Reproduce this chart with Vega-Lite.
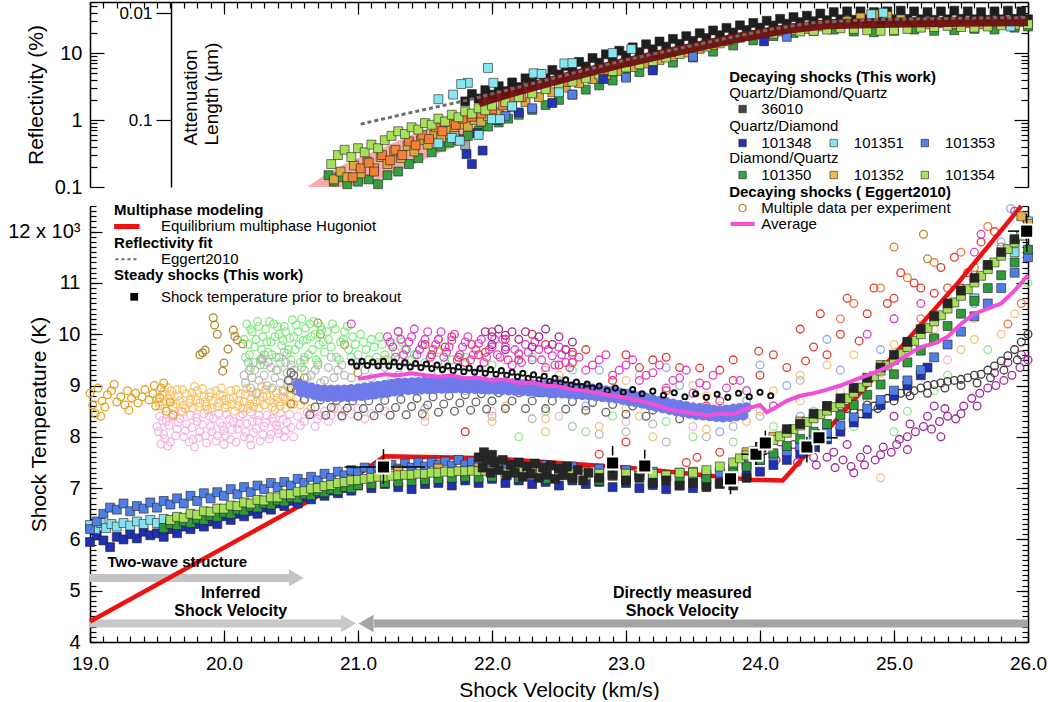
{
"$schema":"https://vega.github.io/schema/vega-lite/v6.json",
"autosize":{"type":"pad"},
"padding":{"left":7,"top":1,"right":0,"bottom":0},
"bounds":"flush",
"spacing":19,
"config":{
 "view":{"stroke":null},
 "font":"Liberation Sans",
 "axis":{"grid":false,"labelFlush":false,"domainColor":"#000000","domainWidth":1.5,"tickColor":"#000000","tickWidth":1.2,"labelColor":"#000000","titleColor":"#000000","labelFont":"Liberation Sans","titleFont":"Liberation Sans","titleFontWeight":"normal","labelFontSize":20,"titleFontSize":21},
 "text":{"font":"Liberation Sans","fontSize":15,"align":"left","baseline":"middle","color":"#000000"}
},
"datasets":{
"pink":[
{"v":20.62,"lo":0.1,"hi":0.1},{"v":20.75,"lo":0.1,"hi":0.15},{"v":20.9,"lo":0.1,"hi":0.22},{"v":21.05,"lo":0.11,"hi":0.3},{"v":21.2,"lo":0.14,"hi":0.4},{"v":21.35,"lo":0.19,"hi":0.55},{"v":21.5,"lo":0.26,"hi":0.72},{"v":21.65,"lo":0.35,"hi":0.9},{"v":21.8,"lo":0.45,"hi":1.1}
],
"refl":[
{"v":21.8,"r":1.9,"s":"36010"},{"v":21.85,"r":2.45,"s":"36010"},{"v":21.9,"r":2.1,"s":"36010"},{"v":21.95,"r":2.8,"s":"36010"},{"v":22,"r":2.4,"s":"36010"},{"v":22.05,"r":3.2,"s":"36010"},{"v":22.1,"r":2.7,"s":"36010"},{"v":22.15,"r":3.65,"s":"36010"},{"v":22.2,"r":3.1,"s":"36010"},{"v":22.25,"r":4.2,"s":"36010"},{"v":22.3,"r":3.6,"s":"36010"},{"v":22.35,"r":4.85,"s":"36010"},{"v":22.4,"r":4.2,"s":"36010"},{"v":22.45,"r":5.6,"s":"36010"},{"v":22.5,"r":4.8,"s":"36010"},{"v":22.55,"r":6.45,"s":"36010"},{"v":22.6,"r":5.5,"s":"36010"},{"v":22.65,"r":7.4,"s":"36010"},{"v":22.7,"r":6.3,"s":"36010"},{"v":22.75,"r":8.45,"s":"36010"},{"v":22.8,"r":7.2,"s":"36010"},{"v":22.85,"r":9.6,"s":"36010"},{"v":22.9,"r":8.1,"s":"36010"},{"v":22.95,"r":10.85,"s":"36010"},{"v":23,"r":9.2,"s":"36010"},{"v":23.05,"r":12.2,"s":"36010"},{"v":23.1,"r":10.3,"s":"36010"},{"v":23.15,"r":13.55,"s":"36010"},{"v":23.2,"r":11.4,"s":"36010"},{"v":23.25,"r":14.9,"s":"36010"},{"v":23.3,"r":12.5,"s":"36010"},{"v":23.35,"r":16.3,"s":"36010"},{"v":23.4,"r":13.7,"s":"36010"},{"v":23.45,"r":17.9,"s":"36010"},{"v":23.5,"r":15.2,"s":"36010"},{"v":23.55,"r":19.8,"s":"36010"},{"v":23.6,"r":16.8,"s":"36010"},{"v":23.65,"r":21.8,"s":"36010"},{"v":23.7,"r":18.5,"s":"36010"},{"v":23.75,"r":23.8,"s":"36010"},{"v":23.8,"r":20.3,"s":"36010"},{"v":23.85,"r":26,"s":"36010"},{"v":23.9,"r":22.1,"s":"36010"},{"v":23.95,"r":28.2,"s":"36010"},{"v":24,"r":24,"s":"36010"},{"v":24.05,"r":30.4,"s":"36010"},{"v":24.1,"r":25.8,"s":"36010"},{"v":24.15,"r":32.5,"s":"36010"},{"v":24.2,"r":27.5,"s":"36010"},{"v":24.25,"r":34.5,"s":"36010"},{"v":24.3,"r":29,"s":"36010"},{"v":24.35,"r":36.2,"s":"36010"},{"v":24.4,"r":30,"s":"36010"},{"v":24.45,"r":39,"s":"36010"},{"v":24.5,"r":31,"s":"36010"},{"v":24.55,"r":41,"s":"36010"},{"v":24.6,"r":32,"s":"36010"},{"v":24.65,"r":42,"s":"36010"},{"v":24.7,"r":31.5,"s":"36010"},{"v":24.75,"r":42,"s":"36010"},{"v":24.8,"r":32,"s":"36010"},{"v":24.85,"r":41,"s":"36010"},{"v":24.9,"r":31,"s":"36010"},{"v":24.95,"r":42,"s":"36010"},{"v":25,"r":32,"s":"36010"},{"v":25.05,"r":43,"s":"36010"},{"v":25.1,"r":32.5,"s":"36010"},{"v":25.15,"r":42,"s":"36010"},{"v":25.2,"r":32,"s":"36010"},{"v":25.25,"r":41,"s":"36010"},{"v":25.3,"r":31.5,"s":"36010"},{"v":25.35,"r":42,"s":"36010"},{"v":25.4,"r":32,"s":"36010"},{"v":25.45,"r":43,"s":"36010"},{"v":25.5,"r":32.5,"s":"36010"},{"v":25.55,"r":42,"s":"36010"},{"v":25.6,"r":32,"s":"36010"},{"v":25.65,"r":41,"s":"36010"},{"v":25.7,"r":31.5,"s":"36010"},{"v":25.75,"r":42,"s":"36010"},{"v":25.8,"r":32,"s":"36010"},{"v":25.85,"r":43,"s":"36010"},{"v":25.9,"r":32.5,"s":"36010"},{"v":25.95,"r":42,"s":"36010"},{"v":26,"r":32,"s":"36010"},
{"v":20.78,"r":0.15,"s":"101350"},{"v":20.82,"r":0.12,"s":"101350"},{"v":20.86,"r":0.14,"s":"101350"},{"v":20.92,"r":0.11,"s":"101350"},{"v":21,"r":0.12,"s":"101350"},{"v":21.08,"r":0.13,"s":"101350"},{"v":21.15,"r":0.11,"s":"101350"},{"v":21.22,"r":0.15,"s":"101350"},{"v":21.3,"r":0.17,"s":"101350"},{"v":21.38,"r":0.22,"s":"101350"},{"v":21.45,"r":0.27,"s":"101350"},{"v":21.55,"r":0.33,"s":"101350"},{"v":21.62,"r":0.4,"s":"101350"},{"v":21.68,"r":0.46,"s":"101350"},{"v":21.75,"r":0.52,"s":"101350"},{"v":21.82,"r":0.58,"s":"101350"},{"v":21.9,"r":0.7,"s":"101350"},{"v":21.97,"r":0.8,"s":"101350"},{"v":22.05,"r":0.92,"s":"101350"},{"v":22.12,"r":1.05,"s":"101350"},{"v":22.2,"r":1.2,"s":"101350"},{"v":22.3,"r":1.42,"s":"101350"},{"v":22.4,"r":1.68,"s":"101350"},{"v":22.5,"r":2,"s":"101350"},{"v":22.6,"r":2.4,"s":"101350"},{"v":22.7,"r":2.85,"s":"101350"},{"v":22.8,"r":3.3,"s":"101350"},{"v":22.9,"r":3.9,"s":"101350"},{"v":23,"r":4.5,"s":"101350"},{"v":23.1,"r":5.2,"s":"101350"},{"v":23.2,"r":6,"s":"101350"},{"v":23.35,"r":7.2,"s":"101350"},{"v":23.5,"r":8.6,"s":"101350"},{"v":23.65,"r":10.5,"s":"101350"},{"v":23.8,"r":13,"s":"101350"},{"v":23.95,"r":15.5,"s":"101350"},{"v":24.1,"r":18,"s":"101350"},{"v":24.25,"r":20,"s":"101350"},{"v":24.4,"r":21.5,"s":"101350"},{"v":24.55,"r":22.5,"s":"101350"},{"v":24.7,"r":21,"s":"101350"},{"v":24.85,"r":20.5,"s":"101350"},{"v":25,"r":21.5,"s":"101350"},{"v":25.15,"r":22.5,"s":"101350"},{"v":25.3,"r":21.5,"s":"101350"},{"v":25.45,"r":22,"s":"101350"},{"v":25.6,"r":23,"s":"101350"},{"v":25.75,"r":22.5,"s":"101350"},{"v":25.9,"r":24,"s":"101350"},{"v":26,"r":25,"s":"101350"},
{"v":20.82,"r":0.13,"s":"101352"},{"v":20.87,"r":0.17,"s":"101352"},{"v":20.92,"r":0.14,"s":"101352"},{"v":20.97,"r":0.21,"s":"101352"},{"v":21.02,"r":0.16,"s":"101352"},{"v":21.07,"r":0.24,"s":"101352"},{"v":21.12,"r":0.19,"s":"101352"},{"v":21.17,"r":0.28,"s":"101352"},{"v":21.22,"r":0.22,"s":"101352"},{"v":21.27,"r":0.34,"s":"101352"},{"v":21.32,"r":0.27,"s":"101352"},{"v":21.37,"r":0.41,"s":"101352"},{"v":21.42,"r":0.34,"s":"101352"},{"v":21.47,"r":0.5,"s":"101352"},{"v":21.52,"r":0.43,"s":"101352"},{"v":21.57,"r":0.6,"s":"101352"},{"v":21.62,"r":0.55,"s":"101352"},{"v":21.67,"r":0.72,"s":"101352"},{"v":21.72,"r":0.66,"s":"101352"},{"v":21.77,"r":0.86,"s":"101352"},{"v":21.82,"r":0.8,"s":"101352"},{"v":21.87,"r":1,"s":"101352"},{"v":21.92,"r":0.95,"s":"101352"},{"v":21.97,"r":1.15,"s":"101352"},{"v":22.05,"r":1.3,"s":"101352"},{"v":22.15,"r":1.55,"s":"101352"},{"v":22.25,"r":1.85,"s":"101352"},{"v":22.35,"r":2.2,"s":"101352"},{"v":22.45,"r":2.6,"s":"101352"},{"v":22.55,"r":3.05,"s":"101352"},{"v":22.65,"r":3.55,"s":"101352"},{"v":22.75,"r":4.1,"s":"101352"},{"v":22.85,"r":4.7,"s":"101352"},{"v":22.95,"r":5.4,"s":"101352"},{"v":23.05,"r":6.2,"s":"101352"},{"v":23.15,"r":7,"s":"101352"},{"v":23.25,"r":7.9,"s":"101352"},{"v":23.35,"r":9,"s":"101352"},{"v":23.45,"r":10.2,"s":"101352"},{"v":23.55,"r":11.6,"s":"101352"},{"v":23.65,"r":13.2,"s":"101352"},{"v":23.75,"r":15,"s":"101352"},{"v":23.85,"r":17,"s":"101352"},{"v":23.95,"r":18.5,"s":"101352"},{"v":24.05,"r":20,"s":"101352"},{"v":24.15,"r":21,"s":"101352"},{"v":24.25,"r":22,"s":"101352"},{"v":24.35,"r":23,"s":"101352"},{"v":24.45,"r":25,"s":"101352"},{"v":24.55,"r":27,"s":"101352"},{"v":24.65,"r":30,"s":"101352"},{"v":24.75,"r":34,"s":"101352"},{"v":24.85,"r":38,"s":"101352"},{"v":24.95,"r":36,"s":"101352"},{"v":25.05,"r":32,"s":"101352"},{"v":25.15,"r":29,"s":"101352"},{"v":25.25,"r":27,"s":"101352"},{"v":25.35,"r":28,"s":"101352"},{"v":25.45,"r":27,"s":"101352"},{"v":25.55,"r":28,"s":"101352"},{"v":25.65,"r":27,"s":"101352"},{"v":25.75,"r":29,"s":"101352"},{"v":25.85,"r":28,"s":"101352"},{"v":25.95,"r":29,"s":"101352"},
{"v":20.96,"r":0.14,"s":"o"},{"v":21.02,"r":0.19,"s":"o"},{"v":21.08,"r":0.23,"s":"o"},{"v":21.12,"r":0.17,"s":"o"},{"v":21.18,"r":0.3,"s":"o"},{"v":21.24,"r":0.25,"s":"o"},{"v":21.28,"r":0.36,"s":"o"},{"v":21.33,"r":0.3,"s":"o"},{"v":21.38,"r":0.48,"s":"o"},{"v":21.43,"r":0.42,"s":"o"},{"v":21.48,"r":0.6,"s":"o"},{"v":21.53,"r":0.52,"s":"o"},{"v":21.58,"r":0.78,"s":"o"},{"v":21.63,"r":0.68,"s":"o"},{"v":21.68,"r":0.95,"s":"o"},{"v":21.73,"r":0.85,"s":"o"},{"v":21.78,"r":1.05,"s":"o"},{"v":21.85,"r":1.12,"s":"o"},{"v":21.92,"r":1.25,"s":"o"},{"v":22,"r":1.45,"s":"o"},{"v":22.08,"r":1.65,"s":"o"},{"v":22.15,"r":1.95,"s":"o"},{"v":22.22,"r":2.2,"s":"o"},{"v":22.3,"r":2.55,"s":"o"},{"v":22.4,"r":3,"s":"o"},{"v":22.55,"r":3.7,"s":"o"},{"v":22.7,"r":4.5,"s":"o"},{"v":22.85,"r":5.4,"s":"o"},{"v":23,"r":6.4,"s":"o"},
{"v":20.8,"r":0.22,"s":"101354"},{"v":20.85,"r":0.3,"s":"101354"},{"v":20.9,"r":0.36,"s":"101354"},{"v":20.95,"r":0.28,"s":"101354"},{"v":21,"r":0.38,"s":"101354"},{"v":21.05,"r":0.33,"s":"101354"},{"v":21.1,"r":0.43,"s":"101354"},{"v":21.15,"r":0.38,"s":"101354"},{"v":21.2,"r":0.5,"s":"101354"},{"v":21.25,"r":0.58,"s":"101354"},{"v":21.3,"r":0.68,"s":"101354"},{"v":21.35,"r":0.62,"s":"101354"},{"v":21.4,"r":0.78,"s":"101354"},{"v":21.45,"r":0.72,"s":"101354"},{"v":21.5,"r":0.9,"s":"101354"},{"v":21.55,"r":0.85,"s":"101354"},{"v":21.6,"r":1.05,"s":"101354"},{"v":21.65,"r":0.95,"s":"101354"},{"v":21.7,"r":1.2,"s":"101354"},{"v":21.75,"r":1.1,"s":"101354"},{"v":21.8,"r":1.35,"s":"101354"},{"v":21.85,"r":1.25,"s":"101354"},{"v":21.9,"r":1.5,"s":"101354"},{"v":21.95,"r":1.4,"s":"101354"},{"v":22,"r":1.65,"s":"101354"},{"v":22.1,"r":1.85,"s":"101354"},{"v":22.2,"r":2.2,"s":"101354"},{"v":22.3,"r":2.5,"s":"101354"},{"v":22.4,"r":2.9,"s":"101354"},{"v":22.5,"r":3.3,"s":"101354"},{"v":22.6,"r":3.75,"s":"101354"},{"v":22.7,"r":4.2,"s":"101354"},{"v":22.8,"r":4.8,"s":"101354"},{"v":22.9,"r":5.4,"s":"101354"},{"v":23,"r":6.1,"s":"101354"},{"v":23.1,"r":6.8,"s":"101354"},{"v":23.2,"r":7.6,"s":"101354"},{"v":23.3,"r":8.6,"s":"101354"},{"v":23.4,"r":9.7,"s":"101354"},{"v":23.5,"r":11,"s":"101354"},{"v":23.6,"r":12.5,"s":"101354"},{"v":23.7,"r":14,"s":"101354"},{"v":23.8,"r":16,"s":"101354"},{"v":23.9,"r":18,"s":"101354"},{"v":24,"r":19,"s":"101354"},{"v":24.1,"r":19.5,"s":"101354"},{"v":24.2,"r":20.5,"s":"101354"},{"v":24.3,"r":21,"s":"101354"},{"v":24.4,"r":21.5,"s":"101354"},{"v":24.5,"r":22.5,"s":"101354"},{"v":24.6,"r":23.5,"s":"101354"},{"v":24.7,"r":23,"s":"101354"},{"v":24.8,"r":22,"s":"101354"},{"v":24.9,"r":21.5,"s":"101354"},{"v":25,"r":22,"s":"101354"},{"v":25.1,"r":23,"s":"101354"},{"v":25.2,"r":24,"s":"101354"},{"v":25.3,"r":24.5,"s":"101354"},{"v":25.4,"r":25.5,"s":"101354"},{"v":25.5,"r":24.5,"s":"101354"},{"v":25.6,"r":24,"s":"101354"},{"v":25.7,"r":25,"s":"101354"},{"v":25.8,"r":26,"s":"101354"},{"v":25.9,"r":26.5,"s":"101354"},{"v":26,"r":27,"s":"101354"},
{"v":21.75,"r":0.5,"s":"g"},{"v":21.8,"r":0.42,"s":"g"},{"v":21.72,"r":0.58,"s":"g"},
{"v":22.1,"r":1.15,"s":"101353"},{"v":22.3,"r":1.5,"s":"101353"},{"v":22.6,"r":2.4,"s":"101353"},{"v":23,"r":4.3,"s":"101353"},{"v":23.5,"r":8.8,"s":"101353"},{"v":24.2,"r":17.5,"s":"101353"},
{"v":21.81,"r":0.31,"s":"101348"},{"v":21.85,"r":0.22,"s":"101348"},{"v":21.93,"r":0.35,"s":"101348"},{"v":21.89,"r":0.64,"s":"101348"},{"v":22.04,"r":1,"s":"101348"},{"v":22.2,"r":1.3,"s":"101348"},{"v":22.45,"r":1.8,"s":"101348"},{"v":22.83,"r":4.1,"s":"101348"},{"v":23.2,"r":5.5,"s":"101348"},{"v":24.03,"r":15,"s":"101348"},
{"v":21.6,"r":0.45,"s":"101351"},{"v":21.7,"r":0.54,"s":"101351"},{"v":21.76,"r":0.49,"s":"101351"},{"v":21.9,"r":0.6,"s":"101351"},{"v":22,"r":1.03,"s":"101351"},{"v":22.06,"r":1.03,"s":"101351"},{"v":21.71,"r":2.4,"s":"101351"},{"v":21.6,"r":2.05,"s":"101351"},{"v":21.82,"r":3.6,"s":"101351"},{"v":21.77,"r":3.45,"s":"101351"},{"v":21.97,"r":6,"s":"101351"},{"v":22.01,"r":3.6,"s":"101351"},{"v":22.31,"r":5,"s":"101351"},{"v":22.37,"r":4.9,"s":"101351"},{"v":22.54,"r":7,"s":"101351"},{"v":22.6,"r":7.1,"s":"101351"},{"v":22.9,"r":10,"s":"101351"},{"v":23.04,"r":11.5,"s":"101351"},{"v":24.83,"r":38,"s":"101351"},{"v":24.92,"r":40,"s":"101351"},{"v":25.87,"r":25,"s":"101351"},{"v":22.15,"r":1.6,"s":"101351"},{"v":22.5,"r":2.6,"s":"101351"}
],
"redband":[
{"v":21.9,"r":1.85},{"v":22.2,"r":2.8},{"v":22.6,"r":4.6},{"v":23,"r":7.3},{"v":23.4,"r":11},{"v":23.8,"r":16.5},{"v":24.2,"r":23},{"v":24.5,"r":27},{"v":25,"r":28.5},{"v":25.5,"r":29.5},{"v":26,"r":30}
],
"eggfit":[
{"v":21.02,"r":0.87},{"v":21.4,"r":1.3},{"v":21.8,"r":1.95},{"v":22.2,"r":3.1},{"v":22.6,"r":5},{"v":23,"r":7.9},{"v":23.4,"r":11.8},{"v":23.8,"r":17.5},{"v":24.1,"r":23},{"v":24.4,"r":28.5},{"v":24.8,"r":31.5},{"v":25.4,"r":33},{"v":26,"r":34}
],
"legTopSq":[
{"v":23.87,"r":1.46,"s":"36010"},{"v":23.87,"r":0.454,"s":"101348"},{"v":24.55,"r":0.454,"s":"101351"},{"v":25.23,"r":0.454,"s":"101353"},{"v":23.87,"r":0.151,"s":"101350"},{"v":24.55,"r":0.151,"s":"101352"},{"v":25.23,"r":0.151,"s":"101354"}
],
"legTopTxt":[
{"v":23.77,"r":4.38,"txt":"Decaying shocks (This work)","w":"b"},
{"v":23.77,"r":2.53,"txt":"Quartz/Diamond/Quartz","w":"n"},
{"v":24.01,"r":1.46,"txt":"36010","w":"n"},
{"v":23.77,"r":0.81,"txt":"Quartz/Diamond","w":"n"},
{"v":24.01,"r":0.454,"txt":"101348","w":"n"},
{"v":24.7,"r":0.454,"txt":"101351","w":"n"},
{"v":25.38,"r":0.454,"txt":"101353","w":"n"},
{"v":23.77,"r":0.271,"txt":"Diamond/Quartz","w":"n"},
{"v":24.01,"r":0.151,"txt":"101350","w":"n"},
{"v":24.7,"r":0.151,"txt":"101352","w":"n"},
{"v":25.38,"r":0.151,"txt":"101354","w":"n"},
{"v":23.77,"r":0.0842,"txt":"Decaying shocks ( Eggert2010)","w":"b"}
],
"egg":[
{"v":19.5,"t":8.2,"g":"C"},{"v":19.52,"t":8.4,"g":"C"},{"v":19.55,"t":8.05,"g":"C"},{"v":19.57,"t":8.3,"g":"C"},{"v":19.6,"t":7.9,"g":"C"},{"v":19.62,"t":8.45,"g":"C"},{"v":19.65,"t":8.15,"g":"C"},{"v":19.67,"t":8.35,"g":"C"},{"v":19.7,"t":8,"g":"C"},{"v":19.72,"t":8.25,"g":"C"},{"v":19.75,"t":8.42,"g":"C"},{"v":19.77,"t":7.95,"g":"C"},{"v":19.8,"t":8.3,"g":"C"},{"v":19.82,"t":8.1,"g":"C"},{"v":19.85,"t":8.45,"g":"C"},{"v":19.87,"t":7.88,"g":"C"},{"v":19.9,"t":8.2,"g":"C"},{"v":19.92,"t":8.36,"g":"C"},{"v":19.95,"t":8.02,"g":"C"},{"v":19.97,"t":8.28,"g":"C"},{"v":20,"t":8.12,"g":"C"},{"v":20.02,"t":8.44,"g":"C"},{"v":20.05,"t":7.95,"g":"C"},{"v":20.07,"t":8.3,"g":"C"},{"v":20.1,"t":8.15,"g":"C"},{"v":20.12,"t":8.4,"g":"C"},{"v":20.15,"t":8,"g":"C"},{"v":20.17,"t":8.26,"g":"C"},{"v":20.2,"t":8.48,"g":"C"},{"v":20.22,"t":8.08,"g":"C"},{"v":20.25,"t":8.32,"g":"C"},{"v":20.27,"t":7.92,"g":"C"},{"v":20.3,"t":8.2,"g":"C"},{"v":20.32,"t":8.42,"g":"C"},{"v":20.35,"t":8.05,"g":"C"},{"v":20.37,"t":8.3,"g":"C"},{"v":20.4,"t":8.14,"g":"C"},{"v":20.42,"t":8.46,"g":"C"},{"v":20.45,"t":8,"g":"C"},{"v":20.47,"t":8.28,"g":"C"},{"v":20.5,"t":8.18,"g":"C"},{"v":20.55,"t":8.4,"g":"C"},{"v":20.6,"t":8.3,"g":"C"},{"v":20.65,"t":8.45,"g":"C"},{"v":20.7,"t":8.35,"g":"C"},{"v":20.75,"t":8.5,"g":"C"},{"v":20.8,"t":8.42,"g":"C"},{"v":20.85,"t":8.55,"g":"C"},{"v":20.9,"t":8.5,"g":"C"},{"v":19.58,"t":7.82,"g":"C"},{"v":19.78,"t":7.8,"g":"C"},{"v":20,"t":7.85,"g":"C"},{"v":20.2,"t":7.84,"g":"C"},{"v":19.53,"t":7.86,"g":"C"},{"v":21,"t":8.55,"g":"C"},{"v":21.1,"t":8.45,"g":"C"},{"v":21.2,"t":8.5,"g":"C"},
{"v":19.51,"t":8.1,"g":"C"},{"v":19.54,"t":8.32,"g":"C"},{"v":19.56,"t":7.96,"g":"C"},{"v":19.59,"t":8.22,"g":"C"},{"v":19.61,"t":8.38,"g":"C"},{"v":19.64,"t":8.02,"g":"C"},{"v":19.66,"t":8.28,"g":"C"},{"v":19.69,"t":8.48,"g":"C"},{"v":19.71,"t":8.12,"g":"C"},{"v":19.74,"t":7.9,"g":"C"},{"v":19.76,"t":8.18,"g":"C"},{"v":19.79,"t":8.38,"g":"C"},{"v":19.81,"t":7.98,"g":"C"},{"v":19.84,"t":8.24,"g":"C"},{"v":19.86,"t":8.02,"g":"C"},{"v":19.89,"t":8.4,"g":"C"},{"v":19.91,"t":8.1,"g":"C"},{"v":19.94,"t":7.92,"g":"C"},{"v":19.96,"t":8.46,"g":"C"},{"v":19.99,"t":8.2,"g":"C"},{"v":20.01,"t":8.02,"g":"C"},{"v":20.04,"t":8.34,"g":"C"},{"v":20.06,"t":8.14,"g":"C"},{"v":20.09,"t":7.9,"g":"C"},{"v":20.11,"t":8.26,"g":"C"},{"v":20.14,"t":8.44,"g":"C"},{"v":20.16,"t":8.1,"g":"C"},{"v":20.19,"t":7.96,"g":"C"},{"v":20.21,"t":8.3,"g":"C"},{"v":20.24,"t":8.16,"g":"C"},{"v":20.26,"t":8.42,"g":"C"},{"v":20.29,"t":8.04,"g":"C"},{"v":20.31,"t":8.28,"g":"C"},{"v":20.34,"t":7.96,"g":"C"},{"v":20.36,"t":8.36,"g":"C"},{"v":20.39,"t":8.22,"g":"C"},{"v":20.41,"t":8.06,"g":"C"},{"v":20.44,"t":8.34,"g":"C"},{"v":20.46,"t":8.12,"g":"C"},{"v":20.49,"t":8.44,"g":"C"},{"v":20.52,"t":8,"g":"C"},{"v":20.57,"t":8.22,"g":"C"},{"v":20.62,"t":8.48,"g":"C"},{"v":20.68,"t":8.2,"g":"C"},{"v":20.72,"t":8.42,"g":"C"},{"v":20.78,"t":8.3,"g":"C"},{"v":20.82,"t":8.55,"g":"C"},{"v":20.88,"t":8.38,"g":"C"},{"v":20.95,"t":8.45,"g":"C"},{"v":21.05,"t":8.35,"g":"C"},
{"v":19.5,"t":8.75,"g":"B"},{"v":19.52,"t":8.6,"g":"B"},{"v":19.55,"t":8.88,"g":"B"},{"v":19.57,"t":8.68,"g":"B"},{"v":19.6,"t":8.8,"g":"B"},{"v":19.62,"t":8.58,"g":"B"},{"v":19.65,"t":8.92,"g":"B"},{"v":19.67,"t":8.7,"g":"B"},{"v":19.7,"t":8.62,"g":"B"},{"v":19.72,"t":8.84,"g":"B"},{"v":19.75,"t":8.74,"g":"B"},{"v":19.77,"t":8.56,"g":"B"},{"v":19.8,"t":8.9,"g":"B"},{"v":19.82,"t":8.66,"g":"B"},{"v":19.85,"t":8.78,"g":"B"},{"v":19.87,"t":8.6,"g":"B"},{"v":19.9,"t":8.86,"g":"B"},{"v":19.92,"t":8.7,"g":"B"},{"v":19.95,"t":8.58,"g":"B"},{"v":19.97,"t":8.82,"g":"B"},{"v":20,"t":8.72,"g":"B"},{"v":20.02,"t":8.62,"g":"B"},{"v":20.05,"t":8.9,"g":"B"},{"v":20.07,"t":8.76,"g":"B"},{"v":20.1,"t":8.6,"g":"B"},{"v":20.12,"t":8.84,"g":"B"},{"v":20.15,"t":8.68,"g":"B"},{"v":20.17,"t":8.94,"g":"B"},{"v":20.2,"t":8.74,"g":"B"},{"v":20.22,"t":8.58,"g":"B"},{"v":20.25,"t":8.86,"g":"B"},{"v":20.27,"t":8.7,"g":"B"},{"v":20.3,"t":8.62,"g":"B"},{"v":20.32,"t":8.8,"g":"B"},{"v":20.35,"t":8.92,"g":"B"},{"v":20.37,"t":8.66,"g":"B"},{"v":20.4,"t":8.76,"g":"B"},{"v":20.42,"t":8.6,"g":"B"},{"v":20.45,"t":8.88,"g":"B"},{"v":20.47,"t":8.72,"g":"B"},{"v":20.5,"t":8.8,"g":"B"},{"v":20.52,"t":8.64,"g":"B"},{"v":20.55,"t":8.9,"g":"B"},{"v":19.58,"t":8.96,"g":"B"},{"v":19.68,"t":8.5,"g":"B"},{"v":19.78,"t":8.98,"g":"B"},{"v":19.88,"t":8.52,"g":"B"},{"v":19.98,"t":8.95,"g":"B"},{"v":20.08,"t":8.5,"g":"B"},{"v":20.18,"t":8.55,"g":"B"},{"v":20.28,"t":8.98,"g":"B"},{"v":20.38,"t":8.52,"g":"B"},{"v":20.48,"t":8.96,"g":"B"},{"v":20.6,"t":8.7,"g":"B"},{"v":20.65,"t":8.55,"g":"B"},
{"v":19.51,"t":8.68,"g":"B"},{"v":19.54,"t":8.82,"g":"B"},{"v":19.56,"t":8.56,"g":"B"},{"v":19.59,"t":8.74,"g":"B"},{"v":19.61,"t":8.9,"g":"B"},{"v":19.64,"t":8.64,"g":"B"},{"v":19.66,"t":8.8,"g":"B"},{"v":19.69,"t":8.92,"g":"B"},{"v":19.71,"t":8.55,"g":"B"},{"v":19.74,"t":8.66,"g":"B"},{"v":19.76,"t":8.86,"g":"B"},{"v":19.79,"t":8.72,"g":"B"},{"v":19.81,"t":8.58,"g":"B"},{"v":19.84,"t":8.94,"g":"B"},{"v":19.86,"t":8.68,"g":"B"},{"v":19.89,"t":8.78,"g":"B"},{"v":19.91,"t":8.56,"g":"B"},{"v":19.94,"t":8.9,"g":"B"},{"v":19.96,"t":8.66,"g":"B"},{"v":19.99,"t":8.8,"g":"B"},{"v":20.01,"t":8.56,"g":"B"},{"v":20.04,"t":8.74,"g":"B"},{"v":20.06,"t":8.64,"g":"B"},{"v":20.09,"t":8.92,"g":"B"},{"v":20.11,"t":8.7,"g":"B"},{"v":20.14,"t":8.56,"g":"B"},{"v":20.16,"t":8.82,"g":"B"},{"v":20.19,"t":8.64,"g":"B"},{"v":20.21,"t":8.88,"g":"B"},{"v":20.24,"t":8.68,"g":"B"},{"v":20.26,"t":8.56,"g":"B"},{"v":20.29,"t":8.78,"g":"B"},{"v":20.31,"t":8.92,"g":"B"},{"v":20.34,"t":8.7,"g":"B"},{"v":20.36,"t":8.58,"g":"B"},{"v":20.39,"t":8.86,"g":"B"},{"v":20.41,"t":8.68,"g":"B"},{"v":20.44,"t":8.78,"g":"B"},{"v":20.46,"t":8.56,"g":"B"},{"v":20.49,"t":8.66,"g":"B"},{"v":20.51,"t":8.92,"g":"B"},{"v":20.54,"t":8.76,"g":"B"},{"v":20.57,"t":8.62,"g":"B"},{"v":20.62,"t":8.84,"g":"B"},
{"v":19,"t":8.85,"g":"A"},{"v":19.02,"t":8.62,"g":"A"},{"v":19.04,"t":8.45,"g":"A"},{"v":19.06,"t":8.95,"g":"A"},{"v":19.09,"t":8.7,"g":"A"},{"v":19.11,"t":8.58,"g":"A"},{"v":19.13,"t":8.82,"g":"A"},{"v":19.16,"t":8.9,"g":"A"},{"v":19.18,"t":9.02,"g":"A"},{"v":19.2,"t":8.68,"g":"A"},{"v":19.23,"t":8.78,"g":"A"},{"v":19.26,"t":8.62,"g":"A"},{"v":19.28,"t":8.9,"g":"A"},{"v":19.31,"t":8.75,"g":"A"},{"v":19.34,"t":8.85,"g":"A"},{"v":19.36,"t":8.66,"g":"A"},{"v":19.39,"t":8.78,"g":"A"},{"v":19.41,"t":8.92,"g":"A"},{"v":19.44,"t":8.72,"g":"A"},{"v":19.47,"t":8.84,"g":"A"},{"v":19.49,"t":8.6,"g":"A"},{"v":19.52,"t":8.76,"g":"A"},{"v":19.55,"t":9.05,"g":"A"},{"v":19.57,"t":8.5,"g":"A"},{"v":19.6,"t":8.68,"g":"A"},{"v":19.08,"t":8.4,"g":"A"},{"v":19.29,"t":8.52,"g":"A"},{"v":19.53,"t":8.95,"g":"A"},{"v":19.62,"t":8.42,"g":"A"},{"v":19.48,"t":9,"g":"A"},
{"v":19.84,"t":9.64,"g":"D"},{"v":19.86,"t":9.69,"g":"D"},{"v":19.92,"t":10.32,"g":"D"},{"v":19.93,"t":10.18,"g":"D"},{"v":19.95,"t":10,"g":"D"},{"v":20.03,"t":9.71,"g":"D"},{"v":20,"t":9.44,"g":"D"},{"v":19.99,"t":9.28,"g":"D"},{"v":20.07,"t":10.08,"g":"D"},{"v":20.08,"t":9.96,"g":"D"},{"v":20.1,"t":9.89,"g":"D"},{"v":20.14,"t":9.81,"g":"D"},{"v":20.7,"t":10.22,"g":"D"},{"v":20.72,"t":10,"g":"D"},{"v":20.5,"t":8.64,"g":"D"},{"v":21.3,"t":10.06,"g":"D"},{"v":20.28,"t":9.52,"g":"D"},{"v":20.6,"t":9.15,"g":"D"},{"v":21,"t":9.25,"g":"D"},{"v":20.9,"t":9.8,"g":"D"},{"v":19.82,"t":9.6,"g":"D"},{"v":25.22,"t":11.95,"g":"D"},{"v":25.25,"t":11.47,"g":"D"},
{"v":20.15,"t":9.9,"g":"E"},{"v":20.17,"t":10.2,"g":"E"},{"v":20.19,"t":9.6,"g":"E"},{"v":20.21,"t":10.05,"g":"E"},{"v":20.23,"t":9.75,"g":"E"},{"v":20.25,"t":10.25,"g":"E"},{"v":20.27,"t":9.5,"g":"E"},{"v":20.29,"t":9.95,"g":"E"},{"v":20.31,"t":10.1,"g":"E"},{"v":20.33,"t":9.65,"g":"E"},{"v":20.35,"t":9.85,"g":"E"},{"v":20.37,"t":10.2,"g":"E"},{"v":20.39,"t":9.55,"g":"E"},{"v":20.41,"t":10,"g":"E"},{"v":20.43,"t":9.78,"g":"E"},{"v":20.45,"t":10.15,"g":"E"},{"v":20.47,"t":9.62,"g":"E"},{"v":20.49,"t":9.92,"g":"E"},{"v":20.51,"t":10.28,"g":"E"},{"v":20.53,"t":9.7,"g":"E"},{"v":20.55,"t":10.05,"g":"E"},{"v":20.57,"t":9.45,"g":"E"},{"v":20.59,"t":9.88,"g":"E"},{"v":20.61,"t":10.12,"g":"E"},{"v":20.63,"t":9.6,"g":"E"},{"v":20.65,"t":9.95,"g":"E"},{"v":20.67,"t":10.25,"g":"E"},{"v":20.69,"t":9.5,"g":"E"},{"v":20.71,"t":9.8,"g":"E"},{"v":20.73,"t":10.08,"g":"E"},{"v":20.75,"t":9.65,"g":"E"},{"v":20.78,"t":9.9,"g":"E"},{"v":20.81,"t":10.2,"g":"E"},{"v":20.84,"t":9.55,"g":"E"},{"v":20.87,"t":9.85,"g":"E"},{"v":20.9,"t":10.05,"g":"E"},{"v":20.93,"t":9.7,"g":"E"},{"v":20.96,"t":9.95,"g":"E"},{"v":21,"t":9.6,"g":"E"},{"v":21.04,"t":9.85,"g":"E"},{"v":21.08,"t":9.5,"g":"E"},{"v":21.12,"t":9.75,"g":"E"},{"v":21.16,"t":9.95,"g":"E"},{"v":21.2,"t":9.6,"g":"E"},{"v":21.25,"t":9.8,"g":"E"},{"v":21.3,"t":9.5,"g":"E"},{"v":21.35,"t":9.7,"g":"E"},{"v":21.42,"t":9.6,"g":"E"},{"v":21.5,"t":9.45,"g":"E"},{"v":21.6,"t":9.65,"g":"E"},{"v":21.7,"t":9.5,"g":"E"},{"v":21.8,"t":9.55,"g":"E"},{"v":22,"t":9.4,"g":"E"},{"v":22.3,"t":9.55,"g":"E"},{"v":22.6,"t":9.3,"g":"E"},{"v":20.2,"t":9.35,"g":"E"},{"v":20.4,"t":9.3,"g":"E"},{"v":20.6,"t":9.3,"g":"E"},
{"v":20.16,"t":9.55,"g":"E"},{"v":20.18,"t":9.8,"g":"E"},{"v":20.2,"t":10.1,"g":"E"},{"v":20.22,"t":9.45,"g":"E"},{"v":20.24,"t":9.9,"g":"E"},{"v":20.26,"t":10.15,"g":"E"},{"v":20.28,"t":9.7,"g":"E"},{"v":20.3,"t":9.4,"g":"E"},{"v":20.32,"t":9.85,"g":"E"},{"v":20.34,"t":10.25,"g":"E"},{"v":20.36,"t":9.6,"g":"E"},{"v":20.38,"t":9.95,"g":"E"},{"v":20.4,"t":10.15,"g":"E"},{"v":20.42,"t":9.45,"g":"E"},{"v":20.44,"t":9.88,"g":"E"},{"v":20.46,"t":10.05,"g":"E"},{"v":20.48,"t":9.7,"g":"E"},{"v":20.5,"t":9.5,"g":"E"},{"v":20.52,"t":9.95,"g":"E"},{"v":20.54,"t":10.18,"g":"E"},{"v":20.56,"t":9.8,"g":"E"},{"v":20.58,"t":10.3,"g":"E"},{"v":20.6,"t":9.55,"g":"E"},{"v":20.62,"t":9.9,"g":"E"},{"v":20.64,"t":10.2,"g":"E"},{"v":20.66,"t":9.7,"g":"E"},{"v":20.68,"t":10,"g":"E"},{"v":20.7,"t":9.45,"g":"E"},{"v":20.72,"t":10.15,"g":"E"},{"v":20.74,"t":9.85,"g":"E"},{"v":20.77,"t":10.05,"g":"E"},{"v":20.8,"t":9.75,"g":"E"},{"v":20.83,"t":10.1,"g":"E"},{"v":20.86,"t":9.5,"g":"E"},{"v":20.89,"t":9.9,"g":"E"},{"v":20.92,"t":10.15,"g":"E"},{"v":20.95,"t":9.55,"g":"E"},{"v":20.98,"t":9.8,"g":"E"},{"v":21.02,"t":10,"g":"E"},{"v":21.06,"t":9.7,"g":"E"},{"v":21.1,"t":9.9,"g":"E"},{"v":21.14,"t":9.55,"g":"E"},{"v":21.18,"t":9.8,"g":"E"},{"v":21.22,"t":9.5,"g":"E"},{"v":21.28,"t":9.65,"g":"E"},{"v":21.33,"t":9.85,"g":"E"},{"v":21.4,"t":9.5,"g":"E"},{"v":21.46,"t":9.7,"g":"E"},{"v":21.55,"t":9.6,"g":"E"},{"v":21.65,"t":9.45,"g":"E"},
{"v":20.15,"t":9.2,"g":"F"},{"v":20.18,"t":9.45,"g":"F"},{"v":20.2,"t":8.95,"g":"F"},{"v":20.23,"t":9.3,"g":"F"},{"v":20.26,"t":9.1,"g":"F"},{"v":20.29,"t":9.5,"g":"F"},{"v":20.32,"t":9,"g":"F"},{"v":20.35,"t":9.35,"g":"F"},{"v":20.38,"t":9.15,"g":"F"},{"v":20.41,"t":9.55,"g":"F"},{"v":20.44,"t":8.9,"g":"F"},{"v":20.47,"t":9.25,"g":"F"},{"v":20.5,"t":9.4,"g":"F"},{"v":20.55,"t":9.05,"g":"F"},{"v":20.6,"t":9.5,"g":"F"},{"v":20.65,"t":9.2,"g":"F"},{"v":20.7,"t":9.4,"g":"F"},{"v":20.75,"t":9.1,"g":"F"},{"v":20.8,"t":9.55,"g":"F"},{"v":20.85,"t":9.3,"g":"F"},{"v":20.9,"t":9.2,"g":"F"},{"v":21,"t":9.45,"g":"F"},{"v":21.1,"t":9.15,"g":"F"},{"v":21.2,"t":9.35,"g":"F"},{"v":21.3,"t":9.2,"g":"F"},{"v":21.5,"t":8.55,"g":"F"},{"v":21.8,"t":8.1,"g":"F"},{"v":22.6,"t":8.2,"g":"F"},{"v":23,"t":8.1,"g":"F"},{"v":23.3,"t":7.9,"g":"F"},{"v":23.6,"t":8,"g":"F"},{"v":24,"t":8.4,"g":"F"},{"v":24.3,"t":9.1,"g":"F"},{"v":20.3,"t":9.6,"g":"F"},{"v":20.45,"t":9.65,"g":"F"},
{"v":20.16,"t":9.05,"g":"F"},{"v":20.19,"t":9.3,"g":"F"},{"v":20.21,"t":9.15,"g":"F"},{"v":20.24,"t":8.85,"g":"F"},{"v":20.27,"t":9.4,"g":"F"},{"v":20.3,"t":9.2,"g":"F"},{"v":20.33,"t":9.45,"g":"F"},{"v":20.36,"t":8.95,"g":"F"},{"v":20.39,"t":9.3,"g":"F"},{"v":20.42,"t":9.05,"g":"F"},{"v":20.46,"t":9.45,"g":"F"},{"v":20.49,"t":9.1,"g":"F"},{"v":20.52,"t":9.3,"g":"F"},{"v":20.58,"t":9.35,"g":"F"},{"v":20.62,"t":9.15,"g":"F"},{"v":20.68,"t":9.3,"g":"F"},{"v":20.72,"t":9.05,"g":"F"},{"v":20.78,"t":9.35,"g":"F"},{"v":20.82,"t":9.15,"g":"F"},{"v":20.88,"t":9.4,"g":"F"},{"v":20.95,"t":9.15,"g":"F"},{"v":21.05,"t":9.3,"g":"F"},{"v":21.15,"t":9.45,"g":"F"},{"v":21.25,"t":9.1,"g":"F"},{"v":21.35,"t":9.3,"g":"F"},{"v":21.45,"t":9.15,"g":"F"},{"v":21.6,"t":9.25,"g":"F"},{"v":21.8,"t":8.9,"g":"F"},{"v":22,"t":8.4,"g":"F"},{"v":22.3,"t":8.35,"g":"F"},{"v":22.8,"t":8.05,"g":"F"},{"v":23.2,"t":8.25,"g":"F"},{"v":23.8,"t":8.2,"g":"F"},{"v":24.1,"t":8.6,"g":"F"},
{"v":21.5,"t":8.3,"g":"S"},{"v":22,"t":8.5,"g":"S"},{"v":22.5,"t":8.4,"g":"S"},{"v":23,"t":8.3,"g":"S"},{"v":23.5,"t":8.2,"g":"S"},{"v":24.6,"t":8.6,"g":"S"},{"v":25.4,"t":9.5,"g":"S"},
{"v":21.5,"t":8.4,"g":"P"},{"v":22,"t":8.3,"g":"P"},{"v":22.4,"t":8.1,"g":"P"},{"v":22.8,"t":8.2,"g":"P"},{"v":23.2,"t":8,"g":"P"},{"v":23.6,"t":8.15,"g":"P"},{"v":24,"t":8.5,"g":"P"},{"v":24.3,"t":8.7,"g":"P"},{"v":24.6,"t":8.9,"g":"P"},{"v":24.9,"t":9.1,"g":"P"},{"v":25.2,"t":9.3,"g":"P"},{"v":25.5,"t":9.7,"g":"P"},{"v":25.8,"t":10,"g":"P"},{"v":23.9,"t":7.5,"g":"P"},{"v":24.9,"t":7.2,"g":"P"},{"v":25.6,"t":9.9,"g":"P"},{"v":21.2,"t":9.5,"g":"P"},{"v":21.6,"t":9.7,"g":"P"},{"v":22.1,"t":9.5,"g":"P"},{"v":22.4,"t":9.3,"g":"P"},{"v":23,"t":9.1,"g":"P"},
{"v":22.1,"t":8.6,"g":"P"},{"v":22.3,"t":8.9,"g":"P"},{"v":22.5,"t":9.2,"g":"P"},{"v":22.7,"t":8.5,"g":"P"},{"v":22.9,"t":8.9,"g":"P"},{"v":23.1,"t":8.4,"g":"P"},{"v":23.3,"t":8.7,"g":"P"},{"v":23.5,"t":9,"g":"P"},{"v":23.7,"t":8.6,"g":"P"},{"v":23.9,"t":8.3,"g":"P"},{"v":24.1,"t":8.9,"g":"P"},{"v":24.3,"t":9.2,"g":"P"},{"v":24.5,"t":9.4,"g":"P"},{"v":24.7,"t":9.6,"g":"P"},{"v":25,"t":9.8,"g":"P"},{"v":25.3,"t":10.1,"g":"P"},{"v":25.6,"t":10.3,"g":"P"},{"v":25.9,"t":10.4,"g":"P"},{"v":22.4,"t":8.35,"g":"P"},{"v":23,"t":8.55,"g":"P"},{"v":23.6,"t":8.8,"g":"P"},{"v":24.2,"t":8.1,"g":"P"},{"v":24.8,"t":8.7,"g":"P"},{"v":25.1,"t":9.5,"g":"P"},
{"v":22.2,"t":8,"g":"R"},{"v":22.7,"t":8.1,"g":"R"},{"v":23.3,"t":8.3,"g":"R"},{"v":23.6,"t":8.5,"g":"R"},{"v":24.2,"t":7.8,"g":"R"},{"v":24.5,"t":8,"g":"R"},{"v":25,"t":8.1,"g":"R"},{"v":25.3,"t":8.9,"g":"R"},{"v":25.6,"t":10.6,"g":"R"},{"v":25.8,"t":10.9,"g":"R"},{"v":25.9,"t":11.8,"g":"R"},{"v":26,"t":11,"g":"R"},{"v":23.9,"t":8.9,"g":"R"},
{"v":22,"t":8.7,"g":"R"},{"v":22.4,"t":8.5,"g":"R"},{"v":22.9,"t":8.4,"g":"R"},{"v":23.2,"t":8.6,"g":"R"},{"v":23.5,"t":8,"g":"R"},{"v":23.8,"t":7.9,"g":"R"},{"v":24.1,"t":8.2,"g":"R"},{"v":24.4,"t":8.5,"g":"R"},{"v":24.7,"t":8.2,"g":"R"},{"v":25.1,"t":8.5,"g":"R"},{"v":25.4,"t":9.2,"g":"R"},{"v":25.7,"t":9.7,"g":"R"},{"v":22.6,"t":9,"g":"R"},{"v":23.1,"t":9.2,"g":"R"},
{"v":22.2,"t":9.6,"g":"Q"},{"v":22.8,"t":9.3,"g":"Q"},{"v":23.4,"t":9,"g":"Q"},{"v":24,"t":9.4,"g":"Q"},{"v":24.5,"t":9.9,"g":"Q"},{"v":25,"t":10.3,"g":"Q"},{"v":25.4,"t":10.9,"g":"Q"},{"v":25.8,"t":11.8,"g":"Q"},{"v":25.87,"t":12.45,"g":"Q"},{"v":23.7,"t":8.1,"g":"Q"},{"v":24.3,"t":8.4,"g":"Q"},
{"v":21.9,"t":9.25,"g":"Q"},{"v":22.5,"t":9.1,"g":"Q"},{"v":23.1,"t":8.7,"g":"Q"},{"v":23.5,"t":8.55,"g":"Q"},{"v":23.9,"t":8.7,"g":"Q"},{"v":24.2,"t":9,"g":"Q"},{"v":24.6,"t":9.3,"g":"Q"},{"v":24.9,"t":9.7,"g":"Q"},{"v":25.2,"t":10.1,"g":"Q"},{"v":25.6,"t":10.6,"g":"Q"},{"v":25.9,"t":11.2,"g":"Q"},{"v":23.3,"t":9.35,"g":"Q"},{"v":22.7,"t":8.6,"g":"Q"},
{"v":21.8,"t":8.1,"g":"K"},{"v":22.3,"t":10,"g":"K"},{"v":22.6,"t":9.65,"g":"K"},{"v":22.9,"t":9.1,"g":"K"},{"v":23.1,"t":9.35,"g":"K"},{"v":23.3,"t":9.55,"g":"K"},{"v":23.55,"t":9.34,"g":"K"},{"v":23.6,"t":8.6,"g":"K"},{"v":23.8,"t":9.1,"g":"K"},{"v":23.99,"t":9.67,"g":"K"},{"v":24.1,"t":9.6,"g":"K"},{"v":24.34,"t":9.48,"g":"K"},{"v":24.4,"t":9.75,"g":"K"},{"v":24.6,"t":10,"g":"K"},{"v":24.74,"t":9.87,"g":"K"},{"v":24.8,"t":10.4,"g":"K"},{"v":24.95,"t":10.6,"g":"K"},{"v":25,"t":10.7,"g":"K"},{"v":25.2,"t":10.9,"g":"K"},{"v":25.15,"t":11,"g":"K"},{"v":25.35,"t":11.3,"g":"K"},{"v":25.45,"t":11.5,"g":"K"},{"v":25.55,"t":11.2,"g":"K"},{"v":25.65,"t":11.8,"g":"K"},{"v":25.75,"t":12,"g":"K"},{"v":23.45,"t":7.5,"g":"K"},{"v":23.7,"t":7.7,"g":"K"},{"v":23.53,"t":7.6,"g":"K"},{"v":22.8,"t":7.66,"g":"K"},{"v":23,"t":7.9,"g":"K"},{"v":22,"t":10.05,"g":"K"},{"v":21.5,"t":9.8,"g":"K"},{"v":21.9,"t":9.6,"g":"K"},{"v":22.5,"t":9.4,"g":"K"},{"v":24.3,"t":10.1,"g":"K"},{"v":24.85,"t":10.9,"g":"K"},
{"v":21.7,"t":9.95,"g":"K"},{"v":22.1,"t":9.9,"g":"K"},{"v":22.4,"t":9.8,"g":"K"},{"v":22.7,"t":9.7,"g":"K"},{"v":23,"t":9.6,"g":"K"},{"v":23.2,"t":9.5,"g":"K"},{"v":23.4,"t":9.35,"g":"K"},{"v":23.7,"t":9.3,"g":"K"},{"v":24,"t":9.2,"g":"K"},{"v":24.2,"t":9.35,"g":"K"},{"v":24.5,"t":9.6,"g":"K"},{"v":22.2,"t":9.5,"g":"K"},{"v":22.6,"t":9.45,"g":"K"},{"v":23.3,"t":8.9,"g":"K"},{"v":23.8,"t":9.5,"g":"K"},{"v":24.45,"t":10.4,"g":"K"},{"v":24.65,"t":10.7,"g":"K"},{"v":25.05,"t":11.2,"g":"K"},{"v":25.3,"t":10.8,"g":"K"},{"v":25.5,"t":10.9,"g":"K"},{"v":21.55,"t":9.6,"g":"K"},{"v":21.65,"t":9.75,"g":"K"},{"v":21.75,"t":9.55,"g":"K"},{"v":21.85,"t":9.8,"g":"K"},{"v":21.95,"t":9.65,"g":"K"},{"v":21.6,"t":9.9,"g":"K"},{"v":21.8,"t":9.45,"g":"K"},
{"v":24.9,"t":10.9,"g":"L"},{"v":25.1,"t":11.1,"g":"L"},{"v":25.3,"t":11.4,"g":"L"},{"v":25.5,"t":11.6,"g":"L"},{"v":25.7,"t":12.1,"g":"L"},{"v":25.2,"t":10.3,"g":"L"},{"v":25.4,"t":10.9,"g":"L"},{"v":25.6,"t":11.3,"g":"L"},{"v":25.8,"t":11.7,"g":"L"},{"v":25.85,"t":10.2,"g":"L"},{"v":25.95,"t":10.6,"g":"L"},{"v":24.7,"t":10.6,"g":"L"},{"v":25,"t":11.7,"g":"L"},{"v":24.6,"t":10.3,"g":"L"},
{"v":21.22,"t":9.95,"g":"J"},{"v":21.26,"t":9.75,"g":"J"},{"v":21.3,"t":10.05,"g":"J"},{"v":21.34,"t":9.6,"g":"J"},{"v":21.38,"t":9.85,"g":"J"},{"v":21.42,"t":10.1,"g":"J"},{"v":21.46,"t":9.7,"g":"J"},{"v":21.5,"t":9.9,"g":"J"},{"v":21.54,"t":9.55,"g":"J"},{"v":21.58,"t":9.8,"g":"J"},{"v":21.62,"t":10.05,"g":"J"},{"v":21.66,"t":9.65,"g":"J"},{"v":21.7,"t":9.88,"g":"J"},{"v":21.74,"t":9.5,"g":"J"},{"v":21.78,"t":9.75,"g":"J"},{"v":21.82,"t":9.95,"g":"J"},{"v":21.86,"t":9.6,"g":"J"},{"v":21.9,"t":9.82,"g":"J"},{"v":21.94,"t":9.45,"g":"J"},{"v":21.98,"t":9.7,"g":"J"},{"v":22.02,"t":9.9,"g":"J"},{"v":22.06,"t":9.55,"g":"J"},{"v":22.1,"t":9.75,"g":"J"},{"v":22.15,"t":9.4,"g":"J"},{"v":22.2,"t":9.62,"g":"J"},{"v":22.25,"t":9.8,"g":"J"},{"v":22.3,"t":9.5,"g":"J"},{"v":22.35,"t":9.7,"g":"J"},{"v":22.4,"t":9.35,"g":"J"},{"v":22.45,"t":9.58,"g":"J"},{"v":22.5,"t":9.75,"g":"J"},{"v":22.55,"t":9.45,"g":"J"},{"v":22.6,"t":9.6,"g":"J"},{"v":22.7,"t":9.3,"g":"J"},{"v":22.8,"t":9.5,"g":"J"},{"v":22.9,"t":9.2,"g":"J"},{"v":23,"t":9.4,"g":"J"},{"v":23.1,"t":9.1,"g":"J"},{"v":23.2,"t":9.25,"g":"J"},{"v":23.3,"t":8.95,"g":"J"},{"v":23.4,"t":9.15,"g":"J"},{"v":23.5,"t":8.85,"g":"J"},{"v":23.6,"t":9,"g":"J"},{"v":23.7,"t":8.7,"g":"J"},{"v":23.9,"t":8.9,"g":"J"},{"v":24.1,"t":8.6,"g":"J"},{"v":20.95,"t":10.2,"g":"J"},{"v":24.8,"t":10,"g":"J"},{"v":25,"t":10.3,"g":"J"},{"v":25.2,"t":10.6,"g":"J"},{"v":25.4,"t":10.5,"g":"J"},{"v":25.6,"t":11.6,"g":"J"},{"v":25.65,"t":11.95,"g":"J"},{"v":25.9,"t":12.4,"g":"J"},
{"v":21.24,"t":9.85,"g":"J"},{"v":21.28,"t":9.55,"g":"J"},{"v":21.32,"t":9.9,"g":"J"},{"v":21.36,"t":9.7,"g":"J"},{"v":21.4,"t":9.95,"g":"J"},{"v":21.44,"t":9.6,"g":"J"},{"v":21.48,"t":9.8,"g":"J"},{"v":21.52,"t":10.05,"g":"J"},{"v":21.56,"t":9.7,"g":"J"},{"v":21.6,"t":9.9,"g":"J"},{"v":21.64,"t":9.55,"g":"J"},{"v":21.68,"t":9.75,"g":"J"},{"v":21.72,"t":10,"g":"J"},{"v":21.76,"t":9.6,"g":"J"},{"v":21.8,"t":9.85,"g":"J"},{"v":21.84,"t":9.5,"g":"J"},{"v":21.88,"t":9.7,"g":"J"},{"v":21.92,"t":9.9,"g":"J"},{"v":21.96,"t":9.55,"g":"J"},{"v":22,"t":9.75,"g":"J"},{"v":22.04,"t":9.6,"g":"J"},{"v":22.08,"t":9.9,"g":"J"},{"v":22.12,"t":9.5,"g":"J"},{"v":22.17,"t":9.7,"g":"J"},{"v":22.22,"t":9.45,"g":"J"},{"v":22.27,"t":9.65,"g":"J"},{"v":22.32,"t":9.85,"g":"J"},{"v":22.37,"t":9.5,"g":"J"},{"v":22.42,"t":9.7,"g":"J"},{"v":22.47,"t":9.4,"g":"J"},{"v":22.52,"t":9.6,"g":"J"},{"v":22.58,"t":9.35,"g":"J"},{"v":22.65,"t":9.55,"g":"J"},{"v":22.75,"t":9.4,"g":"J"},{"v":22.85,"t":9.6,"g":"J"},{"v":22.95,"t":9.3,"g":"J"},{"v":23.05,"t":9.5,"g":"J"},{"v":23.15,"t":9.2,"g":"J"},{"v":23.25,"t":9.4,"g":"J"},{"v":23.35,"t":9.1,"g":"J"},{"v":23.45,"t":9.3,"g":"J"},{"v":23.55,"t":9.05,"g":"J"},{"v":23.65,"t":9.2,"g":"J"},{"v":23.75,"t":8.95,"g":"J"},{"v":23.85,"t":9.1,"g":"J"},
{"v":24.05,"t":7.75,"g":"M"},{"v":24.12,"t":7.55,"g":"M"},{"v":24.2,"t":7.65,"g":"M"},{"v":24.28,"t":7.5,"g":"M"},{"v":24.35,"t":7.7,"g":"M"},{"v":24.42,"t":7.45,"g":"M"},{"v":24.5,"t":7.6,"g":"M"},{"v":24.56,"t":7.4,"g":"M"},{"v":24.62,"t":7.55,"g":"M"},{"v":24.68,"t":7.42,"g":"M"},{"v":24.75,"t":7.6,"g":"M"},{"v":24.8,"t":7.75,"g":"M"},{"v":24.86,"t":7.55,"g":"M"},{"v":24.92,"t":7.8,"g":"M"},{"v":24.98,"t":7.7,"g":"M"},{"v":25.04,"t":7.95,"g":"M"},{"v":25.1,"t":8,"g":"M"},{"v":25.16,"t":8.1,"g":"M"},{"v":25.22,"t":8.2,"g":"M"},{"v":25.28,"t":8.15,"g":"M"},{"v":25.34,"t":8.3,"g":"M"},{"v":25.4,"t":8.4,"g":"M"},{"v":25.46,"t":8.35,"g":"M"},{"v":25.52,"t":8.6,"g":"M"},{"v":25.58,"t":8.75,"g":"M"},{"v":25.64,"t":8.85,"g":"M"},{"v":25.7,"t":8.95,"g":"M"},{"v":25.76,"t":9,"g":"M"},{"v":25.82,"t":9.1,"g":"M"},{"v":25.88,"t":9.2,"g":"M"},{"v":25.94,"t":9.35,"g":"M"},{"v":26,"t":9.5,"g":"M"},{"v":21.95,"t":10.05,"g":"M"},{"v":22,"t":9.95,"g":"M"},{"v":22.05,"t":10.1,"g":"M"},{"v":22.1,"t":9.98,"g":"M"},{"v":22.15,"t":10.05,"g":"M"},{"v":25.3,"t":8.6,"g":"M"},{"v":25,"t":8.4,"g":"M"},{"v":24.7,"t":7.3,"g":"M"},
{"v":24.15,"t":7.9,"g":"M"},{"v":24.25,"t":7.85,"g":"M"},{"v":24.4,"t":7.6,"g":"M"},{"v":24.55,"t":7.7,"g":"M"},{"v":24.65,"t":7.85,"g":"M"},{"v":24.78,"t":7.45,"g":"M"},{"v":24.9,"t":7.65,"g":"M"},{"v":25.02,"t":7.85,"g":"M"},{"v":25.12,"t":8.25,"g":"M"},{"v":25.25,"t":8.4,"g":"M"},{"v":25.38,"t":8.55,"g":"M"},{"v":25.5,"t":8.45,"g":"M"},{"v":25.62,"t":8.6,"g":"M"},{"v":25.75,"t":9.25,"g":"M"},{"v":25.85,"t":9.45,"g":"M"},{"v":25.95,"t":9.6,"g":"M"},{"v":25.1,"t":7.75,"g":"M"},{"v":25.35,"t":8,"g":"M"},{"v":22.2,"t":9.9,"g":"M"},{"v":22.25,"t":10.05,"g":"M"},{"v":22.3,"t":9.75,"g":"M"},{"v":22.35,"t":9.95,"g":"M"},{"v":22.4,"t":10.1,"g":"M"},{"v":22.45,"t":9.8,"g":"M"},{"v":22.5,"t":9.95,"g":"M"},{"v":22.55,"t":9.7,"g":"M"},{"v":22.6,"t":9.85,"g":"M"},{"v":22.1,"t":9.7,"g":"M"},{"v":22,"t":9.8,"g":"M"},
{"v":20.48,"t":9.1,"g":"H"},{"v":20.5,"t":8.95,"g":"H"},{"v":20.52,"t":9.2,"g":"H"},{"v":20.54,"t":8.9,"g":"H"},{"v":20.5,"t":9.25,"g":"H"},{"v":20.56,"t":9.05,"g":"H"},
{"v":20.6,"t":8.73,"g":"H"},{"v":20.64,"t":8.43,"g":"H"},{"v":20.68,"t":8.58,"g":"H"},{"v":20.72,"t":8.72,"g":"H"},{"v":20.76,"t":8.42,"g":"H"},{"v":20.8,"t":8.57,"g":"H"},{"v":20.84,"t":8.71,"g":"H"},{"v":20.88,"t":8.41,"g":"H"},{"v":20.92,"t":8.56,"g":"H"},{"v":20.96,"t":8.7,"g":"H"},{"v":21,"t":8.4,"g":"H"},{"v":21.04,"t":8.55,"g":"H"},{"v":21.08,"t":8.7,"g":"H"},{"v":21.12,"t":8.41,"g":"H"},{"v":21.16,"t":8.56,"g":"H"},{"v":21.2,"t":8.71,"g":"H"},{"v":21.24,"t":8.42,"g":"H"},{"v":21.28,"t":8.57,"g":"H"},{"v":21.32,"t":8.73,"g":"H"},{"v":21.36,"t":8.43,"g":"H"},{"v":21.4,"t":8.59,"g":"H"},{"v":21.44,"t":8.75,"g":"H"},{"v":21.48,"t":8.45,"g":"H"},{"v":21.52,"t":8.62,"g":"H"},{"v":21.56,"t":8.78,"g":"H"},{"v":21.6,"t":8.48,"g":"H"},{"v":21.64,"t":8.64,"g":"H"},{"v":21.68,"t":8.8,"g":"H"},{"v":21.72,"t":8.5,"g":"H"},{"v":21.76,"t":8.66,"g":"H"},{"v":21.8,"t":8.82,"g":"H"},{"v":21.84,"t":8.52,"g":"H"},{"v":21.88,"t":8.68,"g":"H"},{"v":21.92,"t":8.84,"g":"H"},{"v":21.96,"t":8.54,"g":"H"},{"v":22,"t":8.7,"g":"H"},{"v":22.05,"t":8.86,"g":"H"},{"v":22.1,"t":8.55,"g":"H"},{"v":22.15,"t":8.7,"g":"H"},{"v":22.2,"t":8.86,"g":"H"},{"v":22.25,"t":8.55,"g":"H"},{"v":22.3,"t":8.7,"g":"H"},{"v":22.35,"t":8.86,"g":"H"},{"v":22.4,"t":8.55,"g":"H"},{"v":22.45,"t":8.7,"g":"H"},{"v":22.5,"t":8.86,"g":"H"},{"v":22.55,"t":8.54,"g":"H"},{"v":22.6,"t":8.69,"g":"H"},{"v":22.65,"t":8.84,"g":"H"},{"v":22.7,"t":8.52,"g":"H"},{"v":22.75,"t":8.67,"g":"H"},{"v":22.8,"t":8.82,"g":"H"},{"v":22.85,"t":8.48,"g":"H"},{"v":22.9,"t":8.63,"g":"H"},{"v":22.95,"t":8.78,"g":"H"},{"v":23,"t":8.44,"g":"H"},{"v":23.05,"t":8.6,"g":"H"},{"v":23.1,"t":8.72,"g":"H"},{"v":23.15,"t":8.4,"g":"H"},{"v":23.2,"t":8.52,"g":"H"},{"v":23.3,"t":8.65,"g":"H"},{"v":23.4,"t":8.35,"g":"H"},
{"v":24.6,"t":8.45,"g":"N"},{"v":24.7,"t":8.5,"g":"N"},{"v":24.8,"t":8.62,"g":"N"},{"v":24.85,"t":8.6,"g":"N"},{"v":24.9,"t":8.7,"g":"N"},{"v":24.95,"t":8.75,"g":"N"},{"v":25,"t":8.82,"g":"N"},{"v":25.05,"t":8.85,"g":"N"},{"v":25.1,"t":8.88,"g":"N"},{"v":25.15,"t":8.9,"g":"N"},{"v":25.2,"t":8.95,"g":"N"},{"v":25.25,"t":9,"g":"N"},{"v":25.3,"t":9.02,"g":"N"},{"v":25.35,"t":9.05,"g":"N"},{"v":25.4,"t":9.08,"g":"N"},{"v":25.45,"t":9.1,"g":"N"},{"v":25.5,"t":9.12,"g":"N"},{"v":25.55,"t":9.15,"g":"N"},{"v":25.6,"t":9.2,"g":"N"},{"v":25.65,"t":9.22,"g":"N"},{"v":25.7,"t":9.3,"g":"N"},{"v":25.75,"t":9.38,"g":"N"},{"v":25.8,"t":9.48,"g":"N"},{"v":25.85,"t":9.58,"g":"N"},{"v":25.9,"t":9.7,"g":"N"},{"v":25.95,"t":9.85,"g":"N"},{"v":26,"t":10,"g":"N"},
{"v":24.65,"t":8.55,"g":"N"},{"v":24.75,"t":8.45,"g":"N"},{"v":24.88,"t":8.55,"g":"N"},{"v":25,"t":8.7,"g":"N"},{"v":25.12,"t":8.8,"g":"N"},{"v":25.25,"t":8.85,"g":"N"},{"v":25.38,"t":8.95,"g":"N"},{"v":25.5,"t":9,"g":"N"},{"v":25.62,"t":9.05,"g":"N"},{"v":25.72,"t":9.15,"g":"N"},{"v":25.82,"t":9.3,"g":"N"},{"v":25.92,"t":9.5,"g":"N"}
],
"band":[
{"v":20.55,"t":9.02},{"v":20.575,"t":8.88},{"v":20.6,"t":8.99},{"v":20.625,"t":8.85},{"v":20.65,"t":8.96},{"v":20.675,"t":8.82},{"v":20.7,"t":8.93},{"v":20.725,"t":8.79},{"v":20.75,"t":8.92},{"v":20.775,"t":8.78},{"v":20.8,"t":8.92},{"v":20.825,"t":8.78},{"v":20.85,"t":8.92},{"v":20.875,"t":8.78},{"v":20.9,"t":8.92},{"v":20.925,"t":8.78},{"v":20.95,"t":8.93},{"v":20.975,"t":8.79},{"v":21,"t":8.94},{"v":21.025,"t":8.8},{"v":21.05,"t":8.96},{"v":21.075,"t":8.82},{"v":21.1,"t":8.97},{"v":21.125,"t":8.83},{"v":21.15,"t":8.99},{"v":21.175,"t":8.85},{"v":21.2,"t":9.01},{"v":21.225,"t":8.87},{"v":21.25,"t":9.03},{"v":21.275,"t":8.89},{"v":21.3,"t":9.05},{"v":21.325,"t":8.91},{"v":21.35,"t":9.055},{"v":21.375,"t":8.915},{"v":21.4,"t":9.06},{"v":21.425,"t":8.92},{"v":21.45,"t":9.065},{"v":21.475,"t":8.925},{"v":21.5,"t":9.07},{"v":21.525,"t":8.93},{"v":21.55,"t":9.075},{"v":21.575,"t":8.935},{"v":21.6,"t":9.08},{"v":21.625,"t":8.94},{"v":21.65,"t":9.085},{"v":21.675,"t":8.945},{"v":21.7,"t":9.09},{"v":21.725,"t":8.95},{"v":21.75,"t":9.085},{"v":21.775,"t":8.945},{"v":21.8,"t":9.08},{"v":21.825,"t":8.94},{"v":21.85,"t":9.075},{"v":21.875,"t":8.935},{"v":21.9,"t":9.07},{"v":21.925,"t":8.93},{"v":21.95,"t":9.065},{"v":21.975,"t":8.925},{"v":22,"t":9.06},{"v":22.025,"t":8.92},{"v":22.05,"t":9.055},{"v":22.075,"t":8.915},{"v":22.1,"t":9.05},{"v":22.125,"t":8.91},{"v":22.15,"t":9.04},{"v":22.175,"t":8.9},{"v":22.2,"t":9.035},{"v":22.225,"t":8.895},{"v":22.25,"t":9.03},{"v":22.275,"t":8.89},{"v":22.3,"t":9.02},{"v":22.325,"t":8.88},{"v":22.35,"t":9.01},{"v":22.375,"t":8.87},{"v":22.4,"t":9.005},{"v":22.425,"t":8.865},{"v":22.45,"t":9},{"v":22.475,"t":8.86},{"v":22.5,"t":8.99},{"v":22.525,"t":8.85},{"v":22.55,"t":8.98},{"v":22.575,"t":8.84},{"v":22.6,"t":8.97},{"v":22.625,"t":8.83},{"v":22.65,"t":8.96},{"v":22.675,"t":8.82},{"v":22.7,"t":8.95},{"v":22.725,"t":8.81},{"v":22.75,"t":8.935},{"v":22.775,"t":8.795},{"v":22.8,"t":8.92},{"v":22.825,"t":8.78},{"v":22.85,"t":8.905},{"v":22.875,"t":8.765},{"v":22.9,"t":8.89},{"v":22.925,"t":8.75},{"v":22.95,"t":8.865},{"v":22.975,"t":8.725},{"v":23,"t":8.84},{"v":23.025,"t":8.7},{"v":23.05,"t":8.815},{"v":23.075,"t":8.675},{"v":23.1,"t":8.79},{"v":23.125,"t":8.65},{"v":23.15,"t":8.76},{"v":23.175,"t":8.62},{"v":23.2,"t":8.73},{"v":23.225,"t":8.59},{"v":23.25,"t":8.7},{"v":23.275,"t":8.56},{"v":23.3,"t":8.67},{"v":23.325,"t":8.53},{"v":23.35,"t":8.645},{"v":23.375,"t":8.505},{"v":23.4,"t":8.62},{"v":23.425,"t":8.48},{"v":23.45,"t":8.595},{"v":23.475,"t":8.455},{"v":23.5,"t":8.57},{"v":23.525,"t":8.43},{"v":23.55,"t":8.56},{"v":23.575,"t":8.42},{"v":23.6,"t":8.545},{"v":23.625,"t":8.405},{"v":23.65,"t":8.53},{"v":23.675,"t":8.39},{"v":23.7,"t":8.52},{"v":23.725,"t":8.38},{"v":23.75,"t":8.53},{"v":23.775,"t":8.39},{"v":23.8,"t":8.545},{"v":23.825,"t":8.405},{"v":23.85,"t":8.56},{"v":23.875,"t":8.42},{"v":23.9,"t":8.57}
],
"blk":[
{"v":20.95,"t":9.46},{"v":20.99,"t":9.38},{"v":21.03,"t":9.47},{"v":21.07,"t":9.39},{"v":21.11,"t":9.46},{"v":21.15,"t":9.38},{"v":21.19,"t":9.47},{"v":21.23,"t":9.38},{"v":21.27,"t":9.46},{"v":21.31,"t":9.37},{"v":21.35,"t":9.45},{"v":21.39,"t":9.36},{"v":21.43,"t":9.43},{"v":21.47,"t":9.35},{"v":21.51,"t":9.42},{"v":21.55,"t":9.33},{"v":21.59,"t":9.4},{"v":21.63,"t":9.31},{"v":21.67,"t":9.38},{"v":21.71,"t":9.29},{"v":21.75,"t":9.36},{"v":21.79,"t":9.27},{"v":21.83,"t":9.34},{"v":21.87,"t":9.26},{"v":21.91,"t":9.33},{"v":21.95,"t":9.24},{"v":21.99,"t":9.31},{"v":22.03,"t":9.22},{"v":22.07,"t":9.29},{"v":22.11,"t":9.2},{"v":22.15,"t":9.26},{"v":22.19,"t":9.17},{"v":22.23,"t":9.24},{"v":22.27,"t":9.14},{"v":22.31,"t":9.21},{"v":22.35,"t":9.11},{"v":22.39,"t":9.18},{"v":22.43,"t":9.08},{"v":22.47,"t":9.14},{"v":22.51,"t":9.05},{"v":22.55,"t":9.11},{"v":22.59,"t":9.01},{"v":22.63,"t":9.07},{"v":22.67,"t":8.98},{"v":22.71,"t":9.03},{"v":22.75,"t":8.95},{"v":22.8,"t":8.99},{"v":22.86,"t":8.9},{"v":22.92,"t":8.95},{"v":22.98,"t":8.87},{"v":23.05,"t":8.92},{"v":23.12,"t":8.84},{"v":23.2,"t":8.89},{"v":23.28,"t":8.81},{"v":23.36,"t":8.86},{"v":23.44,"t":8.78},{"v":23.52,"t":8.84},{"v":23.6,"t":8.77},{"v":23.68,"t":8.83},{"v":23.76,"t":8.77},{"v":23.84,"t":8.85},{"v":23.92,"t":8.78},{"v":24,"t":8.87},{"v":24.08,"t":8.8}
],
"sq":[
{"v":19,"t":5.95,"s":"101348"},{"v":19.05,"t":6.08,"s":"101348"},{"v":19.1,"t":5.98,"s":"101348"},{"v":19.15,"t":5.85,"s":"101348"},{"v":19.2,"t":6.05,"s":"101348"},{"v":19.25,"t":6,"s":"101348"},{"v":19.3,"t":6.1,"s":"101348"},{"v":19.35,"t":6.02,"s":"101348"},{"v":19.4,"t":6.15,"s":"101348"},{"v":19.45,"t":6.08,"s":"101348"},{"v":19.5,"t":6.12,"s":"101348"},{"v":19.55,"t":6.05,"s":"101348"},{"v":19.6,"t":6.2,"s":"101348"},{"v":19.65,"t":6.12,"s":"101348"},{"v":19.7,"t":6.25,"s":"101348"},{"v":19.75,"t":6.2,"s":"101348"},{"v":19.8,"t":6.3,"s":"101348"},{"v":19.85,"t":6.25,"s":"101348"},{"v":19.9,"t":6.35,"s":"101348"},{"v":19.95,"t":6.3,"s":"101348"},{"v":20,"t":6.45,"s":"101348"},{"v":20.05,"t":6.38,"s":"101348"},{"v":20.1,"t":6.5,"s":"101348"},{"v":20.15,"t":6.45,"s":"101348"},{"v":20.2,"t":6.55,"s":"101348"},{"v":20.25,"t":6.5,"s":"101348"},{"v":20.3,"t":6.62,"s":"101348"},{"v":20.35,"t":6.58,"s":"101348"},{"v":20.4,"t":6.7,"s":"101348"},{"v":20.45,"t":6.65,"s":"101348"},{"v":20.5,"t":6.75,"s":"101348"},{"v":20.55,"t":6.7,"s":"101348"},{"v":20.6,"t":6.82,"s":"101348"},{"v":20.65,"t":6.78,"s":"101348"},{"v":20.7,"t":6.9,"s":"101348"},{"v":20.75,"t":6.85,"s":"101348"},{"v":20.8,"t":6.95,"s":"101348"},{"v":20.85,"t":6.9,"s":"101348"},{"v":20.9,"t":7,"s":"101348"},{"v":20.95,"t":6.95,"s":"101348"},{"v":21,"t":7.05,"s":"101348"},{"v":21.1,"t":7,"s":"101348"},{"v":21.2,"t":7.08,"s":"101348"},{"v":21.3,"t":7.02,"s":"101348"},{"v":21.4,"t":6.98,"s":"101348"},{"v":21.5,"t":7.08,"s":"101348"},{"v":21.6,"t":7.1,"s":"101348"},{"v":21.7,"t":7.05,"s":"101348"},{"v":21.8,"t":7.15,"s":"101348"},{"v":21.9,"t":7.1,"s":"101348"},{"v":22,"t":7.18,"s":"101348"},{"v":22.1,"t":7.1,"s":"101348"},{"v":22.2,"t":7.15,"s":"101348"},{"v":22.3,"t":7.08,"s":"101348"},{"v":22.4,"t":7.12,"s":"101348"},{"v":22.5,"t":7.05,"s":"101348"},{"v":22.6,"t":7.15,"s":"101348"},{"v":22.7,"t":7.08,"s":"101348"},{"v":22.8,"t":7.12,"s":"101348"},{"v":22.9,"t":7.02,"s":"101348"},{"v":23,"t":7.1,"s":"101348"},{"v":23.1,"t":7,"s":"101348"},{"v":23.2,"t":7.06,"s":"101348"},{"v":23.3,"t":6.98,"s":"101348"},{"v":23.4,"t":7.05,"s":"101348"},{"v":23.5,"t":7,"s":"101348"},{"v":23.6,"t":7.06,"s":"101348"},{"v":23.7,"t":7.1,"s":"101348"},{"v":23.8,"t":7.15,"s":"101348"},{"v":23.9,"t":7.25,"s":"101348"},{"v":24,"t":7.32,"s":"101348"},{"v":24.1,"t":7.45,"s":"101348"},{"v":24.2,"t":7.55,"s":"101348"},{"v":24.3,"t":7.68,"s":"101348"},{"v":24.4,"t":7.8,"s":"101348"},{"v":24.5,"t":7.95,"s":"101348"},{"v":24.6,"t":8.1,"s":"101348"},{"v":24.7,"t":8.28,"s":"101348"},{"v":24.8,"t":8.45,"s":"101348"},{"v":24.9,"t":8.62,"s":"101348"},{"v":25,"t":8.8,"s":"101348"},{"v":25.1,"t":9,"s":"101348"},{"v":25.2,"t":9.2,"s":"101348"},{"v":25.25,"t":9.35,"s":"101348"},
{"v":19,"t":6.28,"s":"101351"},{"v":19.04,"t":6.2,"s":"101351"},{"v":19.08,"t":6.32,"s":"101351"},{"v":19.12,"t":6.22,"s":"101351"},{"v":19.16,"t":6.3,"s":"101351"},{"v":19.2,"t":6.25,"s":"101351"},{"v":19.25,"t":6.32,"s":"101351"},{"v":19.3,"t":6.27,"s":"101351"},{"v":19.35,"t":6.35,"s":"101351"},{"v":19.4,"t":6.3,"s":"101351"},{"v":19.45,"t":6.38,"s":"101351"},{"v":19.5,"t":6.32,"s":"101351"},{"v":19.55,"t":6.4,"s":"101351"},{"v":19.6,"t":6.35,"s":"101351"},{"v":19.65,"t":6.42,"s":"101351"},{"v":19.7,"t":6.38,"s":"101351"},{"v":19.75,"t":6.45,"s":"101351"},{"v":19.8,"t":6.42,"s":"101351"},{"v":21,"t":7.2,"s":"101351"},{"v":21.2,"t":7.28,"s":"101351"},{"v":22.2,"t":7.3,"s":"101351"},{"v":23,"t":7.25,"s":"101351"},{"v":23.6,"t":7.2,"s":"101351"},{"v":24.5,"t":8,"s":"101351"},{"v":25.3,"t":9.9,"s":"101351"},{"v":25.6,"t":10.7,"s":"101351"},{"v":25.9,"t":11.6,"s":"101351"},{"v":26,"t":12.2,"s":"101351"},
{"v":19,"t":6.2,"s":"101353"},{"v":19.05,"t":6.35,"s":"101353"},{"v":19.1,"t":6.5,"s":"101353"},{"v":19.15,"t":6.62,"s":"101353"},{"v":19.2,"t":6.58,"s":"101353"},{"v":19.25,"t":6.7,"s":"101353"},{"v":19.3,"t":6.55,"s":"101353"},{"v":19.35,"t":6.65,"s":"101353"},{"v":19.4,"t":6.6,"s":"101353"},{"v":19.45,"t":6.72,"s":"101353"},{"v":19.5,"t":6.62,"s":"101353"},{"v":19.55,"t":6.75,"s":"101353"},{"v":19.6,"t":6.68,"s":"101353"},{"v":19.65,"t":6.8,"s":"101353"},{"v":19.7,"t":6.7,"s":"101353"},{"v":19.75,"t":6.85,"s":"101353"},{"v":19.8,"t":6.75,"s":"101353"},{"v":19.85,"t":6.9,"s":"101353"},{"v":19.9,"t":6.8,"s":"101353"},{"v":19.95,"t":6.92,"s":"101353"},{"v":20,"t":6.85,"s":"101353"},{"v":20.05,"t":6.98,"s":"101353"},{"v":20.1,"t":6.88,"s":"101353"},{"v":20.15,"t":7.02,"s":"101353"},{"v":20.2,"t":6.92,"s":"101353"},{"v":20.25,"t":7.05,"s":"101353"},{"v":20.3,"t":6.98,"s":"101353"},{"v":20.35,"t":7.1,"s":"101353"},{"v":20.4,"t":7.02,"s":"101353"},{"v":20.45,"t":7.12,"s":"101353"},{"v":20.5,"t":7.05,"s":"101353"},{"v":20.55,"t":7.18,"s":"101353"},{"v":20.6,"t":7.1,"s":"101353"},{"v":20.65,"t":7.22,"s":"101353"},{"v":20.7,"t":7.15,"s":"101353"},{"v":20.75,"t":7.28,"s":"101353"},{"v":20.8,"t":7.2,"s":"101353"},{"v":20.85,"t":7.32,"s":"101353"},{"v":20.9,"t":7.25,"s":"101353"},{"v":20.95,"t":7.35,"s":"101353"},{"v":21,"t":7.3,"s":"101353"},{"v":21.05,"t":7.4,"s":"101353"},{"v":21.1,"t":7.32,"s":"101353"},{"v":21.15,"t":7.42,"s":"101353"},{"v":21.2,"t":7.35,"s":"101353"},{"v":21.25,"t":7.45,"s":"101353"},{"v":21.3,"t":7.38,"s":"101353"},{"v":21.35,"t":7.48,"s":"101353"},{"v":21.4,"t":7.4,"s":"101353"},{"v":21.45,"t":7.5,"s":"101353"},{"v":21.5,"t":7.42,"s":"101353"},{"v":21.55,"t":7.5,"s":"101353"},{"v":21.6,"t":7.45,"s":"101353"},{"v":21.65,"t":7.52,"s":"101353"},{"v":21.7,"t":7.44,"s":"101353"},{"v":21.75,"t":7.55,"s":"101353"},{"v":21.8,"t":7.45,"s":"101353"},{"v":21.85,"t":7.52,"s":"101353"},{"v":21.9,"t":7.45,"s":"101353"},{"v":22,"t":7.5,"s":"101353"},{"v":22.1,"t":7.4,"s":"101353"},{"v":22.2,"t":7.48,"s":"101353"},{"v":22.3,"t":7.38,"s":"101353"},{"v":22.4,"t":7.45,"s":"101353"},{"v":22.5,"t":7.35,"s":"101353"},{"v":22.6,"t":7.42,"s":"101353"},{"v":22.7,"t":7.3,"s":"101353"},{"v":22.8,"t":7.38,"s":"101353"},{"v":22.9,"t":7.28,"s":"101353"},{"v":23,"t":7.35,"s":"101353"},{"v":23.1,"t":7.25,"s":"101353"},{"v":23.2,"t":7.32,"s":"101353"},{"v":23.3,"t":7.22,"s":"101353"},{"v":23.4,"t":7.3,"s":"101353"},{"v":23.5,"t":7.2,"s":"101353"},{"v":23.6,"t":7.28,"s":"101353"},{"v":23.7,"t":7.3,"s":"101353"},{"v":23.8,"t":7.38,"s":"101353"},{"v":23.9,"t":7.45,"s":"101353"},{"v":24,"t":7.55,"s":"101353"},{"v":24.1,"t":7.62,"s":"101353"},{"v":24.2,"t":7.72,"s":"101353"},{"v":24.3,"t":7.82,"s":"101353"},{"v":24.4,"t":7.95,"s":"101353"},{"v":24.5,"t":8.08,"s":"101353"},{"v":24.6,"t":8.22,"s":"101353"},{"v":24.7,"t":8.38,"s":"101353"},{"v":24.8,"t":8.55,"s":"101353"},{"v":24.9,"t":8.72,"s":"101353"},{"v":25,"t":8.9,"s":"101353"},{"v":25.1,"t":9.1,"s":"101353"},{"v":25.2,"t":9.3,"s":"101353"},{"v":25.3,"t":9.55,"s":"101353"},{"v":25.4,"t":9.8,"s":"101353"},{"v":25.5,"t":10.05,"s":"101353"},{"v":25.6,"t":10.35,"s":"101353"},{"v":25.7,"t":10.6,"s":"101353"},{"v":25.8,"t":10.9,"s":"101353"},{"v":25.9,"t":11.2,"s":"101353"},{"v":26,"t":11.5,"s":"101353"},
{"v":19.55,"t":6.22,"s":"101350"},{"v":19.6,"t":6.3,"s":"101350"},{"v":19.65,"t":6.28,"s":"101350"},{"v":19.7,"t":6.35,"s":"101350"},{"v":19.75,"t":6.32,"s":"101350"},{"v":19.8,"t":6.4,"s":"101350"},{"v":19.85,"t":6.38,"s":"101350"},{"v":19.9,"t":6.46,"s":"101350"},{"v":19.95,"t":6.44,"s":"101350"},{"v":20,"t":6.52,"s":"101350"},{"v":20.05,"t":6.5,"s":"101350"},{"v":20.1,"t":6.58,"s":"101350"},{"v":20.15,"t":6.56,"s":"101350"},{"v":20.2,"t":6.64,"s":"101350"},{"v":20.25,"t":6.62,"s":"101350"},{"v":20.3,"t":6.7,"s":"101350"},{"v":20.35,"t":6.68,"s":"101350"},{"v":20.4,"t":6.76,"s":"101350"},{"v":20.45,"t":6.74,"s":"101350"},{"v":20.5,"t":6.82,"s":"101350"},{"v":20.55,"t":6.8,"s":"101350"},{"v":20.6,"t":6.88,"s":"101350"},{"v":20.65,"t":6.86,"s":"101350"},{"v":20.7,"t":6.94,"s":"101350"},{"v":20.75,"t":6.92,"s":"101350"},{"v":20.8,"t":6.98,"s":"101350"},{"v":20.85,"t":6.96,"s":"101350"},{"v":20.9,"t":7.02,"s":"101350"},{"v":20.95,"t":7,"s":"101350"},{"v":21,"t":7.06,"s":"101350"},{"v":21.1,"t":7.08,"s":"101350"},{"v":21.2,"t":7.1,"s":"101350"},{"v":21.3,"t":7.12,"s":"101350"},{"v":21.4,"t":7.14,"s":"101350"},{"v":21.5,"t":7.16,"s":"101350"},{"v":21.6,"t":7.18,"s":"101350"},{"v":21.7,"t":7.2,"s":"101350"},{"v":21.8,"t":7.22,"s":"101350"},{"v":21.9,"t":7.2,"s":"101350"},{"v":22,"t":7.22,"s":"101350"},{"v":22.2,"t":7.2,"s":"101350"},{"v":22.4,"t":7.18,"s":"101350"},{"v":22.6,"t":7.2,"s":"101350"},{"v":22.8,"t":7.15,"s":"101350"},{"v":23,"t":7.18,"s":"101350"},{"v":23.2,"t":7.12,"s":"101350"},{"v":23.4,"t":7.15,"s":"101350"},{"v":23.6,"t":7.18,"s":"101350"},{"v":23.8,"t":7.3,"s":"101350"},{"v":23.9,"t":7.42,"s":"101350"},{"v":24,"t":7.55,"s":"101350"},{"v":24.1,"t":7.68,"s":"101350"},{"v":24.2,"t":7.82,"s":"101350"},{"v":24.3,"t":7.96,"s":"101350"},{"v":24.4,"t":8.1,"s":"101350"},{"v":24.5,"t":8.25,"s":"101350"},{"v":24.6,"t":8.42,"s":"101350"},{"v":24.7,"t":8.62,"s":"101350"},{"v":24.8,"t":8.82,"s":"101350"},{"v":24.9,"t":9.02,"s":"101350"},{"v":25,"t":9.22,"s":"101350"},{"v":25.1,"t":9.45,"s":"101350"},{"v":25.2,"t":9.68,"s":"101350"},{"v":25.3,"t":9.92,"s":"101350"},{"v":25.4,"t":10.16,"s":"101350"},{"v":25.5,"t":10.4,"s":"101350"},{"v":25.6,"t":10.65,"s":"101350"},{"v":25.7,"t":10.9,"s":"101350"},{"v":25.8,"t":11.15,"s":"101350"},{"v":25.9,"t":11.4,"s":"101350"},{"v":26,"t":11.65,"s":"101350"},
{"v":21.3,"t":7.35,"s":"101352"},{"v":21.6,"t":7.38,"s":"101352"},{"v":21.9,"t":7.4,"s":"101352"},{"v":22.3,"t":7.36,"s":"101352"},{"v":22.7,"t":7.32,"s":"101352"},{"v":23.1,"t":7.3,"s":"101352"},{"v":23.5,"t":7.32,"s":"101352"},{"v":23.9,"t":7.7,"s":"101352"},{"v":24.1,"t":8,"s":"101352"},{"v":24.3,"t":8.3,"s":"101352"},{"v":24.5,"t":8.6,"s":"101352"},{"v":24.7,"t":8.95,"s":"101352"},{"v":24.9,"t":9.4,"s":"101352"},{"v":25.1,"t":9.85,"s":"101352"},{"v":25.3,"t":10.35,"s":"101352"},{"v":25.5,"t":10.85,"s":"101352"},{"v":25.7,"t":11.35,"s":"101352"},{"v":25.9,"t":11.85,"s":"101352"},{"v":26,"t":12.15,"s":"101352"},{"v":25.95,"t":12.3,"s":"101352"},
{"v":19.6,"t":6.38,"s":"101354"},{"v":19.65,"t":6.44,"s":"101354"},{"v":19.7,"t":6.42,"s":"101354"},{"v":19.75,"t":6.5,"s":"101354"},{"v":19.8,"t":6.48,"s":"101354"},{"v":19.85,"t":6.55,"s":"101354"},{"v":19.9,"t":6.54,"s":"101354"},{"v":19.95,"t":6.6,"s":"101354"},{"v":20,"t":6.6,"s":"101354"},{"v":20.05,"t":6.66,"s":"101354"},{"v":20.1,"t":6.65,"s":"101354"},{"v":20.15,"t":6.72,"s":"101354"},{"v":20.2,"t":6.7,"s":"101354"},{"v":20.25,"t":6.77,"s":"101354"},{"v":20.3,"t":6.76,"s":"101354"},{"v":20.35,"t":6.82,"s":"101354"},{"v":20.4,"t":6.82,"s":"101354"},{"v":20.45,"t":6.88,"s":"101354"},{"v":20.5,"t":6.88,"s":"101354"},{"v":20.55,"t":6.93,"s":"101354"},{"v":20.6,"t":6.94,"s":"101354"},{"v":20.65,"t":6.99,"s":"101354"},{"v":20.7,"t":7,"s":"101354"},{"v":20.75,"t":7.04,"s":"101354"},{"v":20.8,"t":7.06,"s":"101354"},{"v":20.85,"t":7.1,"s":"101354"},{"v":20.9,"t":7.12,"s":"101354"},{"v":20.95,"t":7.15,"s":"101354"},{"v":21,"t":7.16,"s":"101354"},{"v":21.05,"t":7.18,"s":"101354"},{"v":21.1,"t":7.2,"s":"101354"},{"v":21.15,"t":7.22,"s":"101354"},{"v":21.2,"t":7.22,"s":"101354"},{"v":21.25,"t":7.24,"s":"101354"},{"v":21.3,"t":7.25,"s":"101354"},{"v":21.35,"t":7.26,"s":"101354"},{"v":21.4,"t":7.26,"s":"101354"},{"v":21.45,"t":7.28,"s":"101354"},{"v":21.5,"t":7.28,"s":"101354"},{"v":21.55,"t":7.3,"s":"101354"},{"v":21.6,"t":7.3,"s":"101354"},{"v":21.65,"t":7.32,"s":"101354"},{"v":21.7,"t":7.31,"s":"101354"},{"v":21.75,"t":7.33,"s":"101354"},{"v":21.8,"t":7.33,"s":"101354"},{"v":21.85,"t":7.34,"s":"101354"},{"v":21.9,"t":7.33,"s":"101354"},{"v":21.95,"t":7.34,"s":"101354"},{"v":22,"t":7.32,"s":"101354"},{"v":22.1,"t":7.3,"s":"101354"},{"v":22.2,"t":7.32,"s":"101354"},{"v":22.3,"t":7.28,"s":"101354"},{"v":22.4,"t":7.3,"s":"101354"},{"v":22.5,"t":7.26,"s":"101354"},{"v":22.6,"t":7.3,"s":"101354"},{"v":22.7,"t":7.25,"s":"101354"},{"v":22.8,"t":7.28,"s":"101354"},{"v":22.9,"t":7.24,"s":"101354"},{"v":23,"t":7.28,"s":"101354"},{"v":23.1,"t":7.24,"s":"101354"},{"v":23.2,"t":7.28,"s":"101354"},{"v":23.3,"t":7.25,"s":"101354"},{"v":23.4,"t":7.3,"s":"101354"},{"v":23.5,"t":7.3,"s":"101354"},{"v":23.6,"t":7.35,"s":"101354"},{"v":23.7,"t":7.42,"s":"101354"},{"v":23.8,"t":7.5,"s":"101354"},{"v":23.85,"t":7.58,"s":"101354"},{"v":23.9,"t":7.64,"s":"101354"},{"v":23.95,"t":7.72,"s":"101354"},{"v":24,"t":7.8,"s":"101354"},{"v":24.05,"t":7.87,"s":"101354"},{"v":24.1,"t":7.94,"s":"101354"},{"v":24.15,"t":8.01,"s":"101354"},{"v":24.2,"t":8.08,"s":"101354"},{"v":24.25,"t":8.15,"s":"101354"},{"v":24.3,"t":8.22,"s":"101354"},{"v":24.35,"t":8.29,"s":"101354"},{"v":24.4,"t":8.36,"s":"101354"},{"v":24.45,"t":8.44,"s":"101354"},{"v":24.5,"t":8.51,"s":"101354"},{"v":24.55,"t":8.58,"s":"101354"},{"v":24.6,"t":8.65,"s":"101354"},{"v":24.65,"t":8.75,"s":"101354"},{"v":24.7,"t":8.86,"s":"101354"},{"v":24.75,"t":8.96,"s":"101354"},{"v":24.8,"t":9.07,"s":"101354"},{"v":24.85,"t":9.18,"s":"101354"},{"v":24.9,"t":9.29,"s":"101354"},{"v":24.95,"t":9.39,"s":"101354"},{"v":25,"t":9.5,"s":"101354"},{"v":25.05,"t":9.62,"s":"101354"},{"v":25.1,"t":9.75,"s":"101354"},{"v":25.15,"t":9.87,"s":"101354"},{"v":25.2,"t":10,"s":"101354"},{"v":25.25,"t":10.12,"s":"101354"},{"v":25.3,"t":10.25,"s":"101354"},{"v":25.35,"t":10.37,"s":"101354"},{"v":25.4,"t":10.5,"s":"101354"},{"v":25.45,"t":10.62,"s":"101354"},{"v":25.5,"t":10.75,"s":"101354"},{"v":25.55,"t":10.88,"s":"101354"},{"v":25.6,"t":11.01,"s":"101354"},{"v":25.65,"t":11.14,"s":"101354"},{"v":25.7,"t":11.27,"s":"101354"},{"v":25.75,"t":11.4,"s":"101354"},{"v":25.8,"t":11.53,"s":"101354"},{"v":25.85,"t":11.66,"s":"101354"},{"v":25.9,"t":11.79,"s":"101354"},{"v":25.95,"t":11.92,"s":"101354"},{"v":26,"t":12.05,"s":"101354"},
{"v":21.9,"t":7.6,"s":"36010"},{"v":21.93,"t":7.4,"s":"36010"},{"v":21.96,"t":7.55,"s":"36010"},{"v":21.99,"t":7.3,"s":"36010"},{"v":22.02,"t":7.5,"s":"36010"},{"v":22.05,"t":7.35,"s":"36010"},{"v":22.08,"t":7.55,"s":"36010"},{"v":22.11,"t":7.25,"s":"36010"},{"v":22.14,"t":7.45,"s":"36010"},{"v":22.17,"t":7.3,"s":"36010"},{"v":22.2,"t":7.5,"s":"36010"},{"v":22.23,"t":7.22,"s":"36010"},{"v":22.26,"t":7.42,"s":"36010"},{"v":22.29,"t":7.28,"s":"36010"},{"v":22.32,"t":7.48,"s":"36010"},{"v":22.35,"t":7.2,"s":"36010"},{"v":22.38,"t":7.4,"s":"36010"},{"v":22.41,"t":7.26,"s":"36010"},{"v":22.44,"t":7.44,"s":"36010"},{"v":22.47,"t":7.18,"s":"36010"},{"v":22.5,"t":7.38,"s":"36010"},{"v":22.53,"t":7.25,"s":"36010"},{"v":22.56,"t":7.42,"s":"36010"},{"v":22.6,"t":7.2,"s":"36010"},{"v":22.64,"t":7.35,"s":"36010"},{"v":22.68,"t":7.15,"s":"36010"},{"v":22.72,"t":7.3,"s":"36010"},{"v":22.8,"t":7.2,"s":"36010"},{"v":22.9,"t":7.25,"s":"36010"},{"v":23,"t":7.15,"s":"36010"},{"v":23.1,"t":7.2,"s":"36010"},{"v":23.2,"t":7.1,"s":"36010"},{"v":23.3,"t":7.15,"s":"36010"},{"v":23.4,"t":7.05,"s":"36010"},{"v":23.5,"t":7.1,"s":"36010"},{"v":23.6,"t":7.02,"s":"36010"},{"v":23.7,"t":7.08,"s":"36010"},{"v":23.8,"t":7.05,"s":"36010"},{"v":23.9,"t":7.2,"s":"36010"},{"v":24.2,"t":8.15,"s":"36010"},{"v":24.3,"t":8.25,"s":"36010"},{"v":24.4,"t":8.45,"s":"36010"},{"v":24.5,"t":8.6,"s":"36010"},{"v":24.6,"t":8.75,"s":"36010"},{"v":24.7,"t":8.95,"s":"36010"},{"v":24.8,"t":9.15,"s":"36010"},{"v":24.9,"t":9.35,"s":"36010"},{"v":25,"t":9.6,"s":"36010"},{"v":25.1,"t":9.85,"s":"36010"},{"v":25.2,"t":10.1,"s":"36010"},{"v":25.3,"t":10.35,"s":"36010"},{"v":25.4,"t":10.6,"s":"36010"},{"v":25.5,"t":10.85,"s":"36010"},{"v":25.6,"t":11.1,"s":"36010"},{"v":25.7,"t":11.35,"s":"36010"},{"v":25.8,"t":11.6,"s":"36010"},{"v":25.9,"t":11.85,"s":"36010"},{"v":26,"t":12,"s":"36010"},{"v":21.94,"t":7.7,"s":"36010"},{"v":22,"t":7.65,"s":"36010"}
],
"hug":[
{"v":19,"t":4.4},{"v":21.05,"t":7.35},{"v":21.2,"t":7.62},{"v":22,"t":7.58},{"v":23,"t":7.4},{"v":23.95,"t":7.16},{"v":24.17,"t":7.15},{"v":25.49,"t":11.04},{"v":25.95,"t":12.5}
],
"avg":[
{"v":21,"t":9.13},{"v":21.1,"t":9.17},{"v":21.2,"t":9.22},{"v":21.3,"t":9.2},{"v":21.4,"t":9.24},{"v":21.5,"t":9.2},{"v":21.6,"t":9.17},{"v":21.7,"t":9.2},{"v":21.8,"t":9.14},{"v":21.9,"t":9.15},{"v":22,"t":9.1},{"v":22.1,"t":9.12},{"v":22.2,"t":9.05},{"v":22.3,"t":9.06},{"v":22.4,"t":9},{"v":22.5,"t":8.98},{"v":22.6,"t":8.92},{"v":22.7,"t":8.9},{"v":22.8,"t":8.85},{"v":22.9,"t":8.8},{"v":23,"t":8.76},{"v":23.1,"t":8.7},{"v":23.2,"t":8.64},{"v":23.3,"t":8.55},{"v":23.4,"t":8.5},{"v":23.5,"t":8.46},{"v":23.6,"t":8.42},{"v":23.7,"t":8.45},{"v":23.8,"t":8.44},{"v":23.9,"t":8.55},{"v":24,"t":8.62},{"v":24.05,"t":8.48},{"v":24.1,"t":8.55},{"v":24.2,"t":8.7},{"v":24.3,"t":8.8},{"v":24.4,"t":8.85},{"v":24.5,"t":8.92},{"v":24.6,"t":9},{"v":24.7,"t":9.1},{"v":24.8,"t":9.2},{"v":24.9,"t":9.3},{"v":25,"t":9.42},{"v":25.1,"t":9.6},{"v":25.2,"t":9.75},{"v":25.3,"t":9.82},{"v":25.4,"t":9.95},{"v":25.5,"t":10.2},{"v":25.6,"t":10.4},{"v":25.7,"t":10.5},{"v":25.8,"t":10.6},{"v":25.9,"t":10.85},{"v":26,"t":11.15}
],
"steady":[
{"v":21.19,"t":7.41},{"v":22.9,"t":7.49},{"v":23.14,"t":7.43},{"v":23.78,"t":7.18},{"v":23.97,"t":7.66},{"v":24.04,"t":7.88},{"v":24.35,"t":7.8},{"v":24.44,"t":7.98},{"v":25.99,"t":12.01}
],
"ebv":[
{"v":21.19,"t1":7.08,"t2":7.76},{"v":22.9,"t1":7.3,"t2":7.82},{"v":23.14,"t1":7.28,"t2":7.75},{"v":23.78,"t1":6.88,"t2":7.3},{"v":23.97,"t1":7.45,"t2":7.9},{"v":24.04,"t1":7.7,"t2":8.12},{"v":24.35,"t1":7.5,"t2":8},{"v":24.44,"t1":7.7,"t2":8.15},{"v":25.99,"t1":11.6,"t2":12.35}
],
"ebh":[
{"v1":20.9,"v2":21.5,"t":7.41},{"v1":23.86,"v2":24.05,"t":7.66},{"v1":24.4,"v2":24.58,"t":7.98},{"v1":25.85,"v2":26,"t":12.01}
],
"arrows":[
{"v1":19,"v2":20.5,"t":5.25,"k":"two"},{"v1":19,"v2":20.88,"t":4.36,"k":"inf"},{"v1":21.12,"v2":26,"t":4.36,"k":"dir"}
],
"heads":[
{"v":20.54,"t":5.25,"k":"two","d":"r"},{"v":20.93,"t":4.36,"k":"inf","d":"r"},{"v":21.06,"t":4.36,"k":"dir","d":"l"}
],
"arrowTxt":[
{"v":20.05,"t":4.95,"txt":"Inferred"},{"v":20.05,"t":4.61,"txt":"Shock Velocity"},{"v":23.42,"t":4.95,"txt":"Directly measured"},{"v":23.42,"t":4.61,"txt":"Shock Velocity"}
],
"legBotTxt":[
{"v":19.18,"t":12.42,"txt":"Multiphase modeling","w":"b"},
{"v":19.53,"t":12.11,"txt":"Equilibrium multiphase Hugoniot","w":"n"},
{"v":19.18,"t":11.78,"txt":"Reflectivity fit","w":"b"},
{"v":19.53,"t":11.47,"txt":"Eggert2010","w":"n"},
{"v":19.18,"t":11.15,"txt":"Steady shocks (This work)","w":"b"},
{"v":19.53,"t":10.73,"txt":"Shock temperature prior to breakout","w":"n"},
{"v":24.01,"t":12.46,"txt":"Multiple data per experiment","w":"n"},
{"v":24.01,"t":12.15,"txt":"Average","w":"n"},
{"v":19.13,"t":5.55,"txt":"Two-wave structure","w":"a"}
]
},
"vconcat":[
{
 "width":938,"height":185,
 "resolve":{"axis":{"x":"independent","y":"independent"},"scale":{"color":"independent"}},
 "layer":[
  {"data":{"name":"pink"},"mark":{"type":"area","color":"#f5a3a3","opacity":0.9},
   "encoding":{
    "x":{"field":"v","type":"quantitative","scale":{"domain":[19,26],"nice":false,"zero":false},"axis":{"orient":"top","values":[19,20,21,22,23,24,25,26],"tickSize":-12,"labels":false,"domain":true,"title":null}},
    "y":{"field":"lo","type":"quantitative","scale":{"type":"log","domain":[0.1,58],"nice":false},"axis":{"orient":"left","values":[0.1,1,10],"format":"~g","ticks":false,"labelPadding":8,"title":"Reflectivity (%)","titleX":-44}},
    "y2":{"field":"hi"}}},
  {"data":{"name":"refl"},"mark":{"type":"point","shape":"square","filled":true,"size":80,"opacity":1,"stroke":"#222222","strokeWidth":0.6},
   "encoding":{
    "x":{"field":"v","type":"quantitative","scale":{"domain":[19,26],"nice":false,"zero":false},"axis":{"orient":"top","tickCount":70,"tickSize":-6,"labels":false,"domain":false,"title":null}},
    "y":{"field":"r","type":"quantitative","scale":{"type":"log","domain":[0.1,58],"nice":false},"axis":{"orient":"left","values":[0.1,1,10],"tickSize":-14,"labels":false,"domain":false,"title":null}},
    "color":{"field":"s","type":"nominal","scale":{"domain":["36010","101348","101351","101353","101350","101352","101354","o","g"],"range":["#1e1e1e","#2233b8","#88e6f0","#5580e4","#35a040","#d9aa40","#a8e05c","#f28038","#a9a9a9"]},"legend":null}}},
  {"data":{"name":"redband"},"mark":{"type":"line","color":"#6e0f0f","strokeWidth":10,"opacity":0.95},
   "encoding":{
    "x":{"field":"v","type":"quantitative","axis":null},
    "y":{"field":"r","type":"quantitative","axis":{"orient":"left","values":[0.2,0.3,0.4,0.5,0.6,0.7,0.8,0.9,2,3,4,5,6,7,8,9,20,30,40,50],"tickSize":-7,"labels":false,"domain":false,"title":null}}}},
  {"data":{"name":"eggfit"},"mark":{"type":"line","color":"#6c6c6c","strokeWidth":3,"strokeDash":[4,3]},
   "encoding":{
    "x":{"field":"v","type":"quantitative","axis":null},
    "y":{"field":"r","type":"quantitative","axis":{"orient":"right","values":[0.1,1,10],"tickSize":-14,"labels":false,"domain":true,"title":null}}}},
  {"data":{"name":"legTopSq"},"mark":{"type":"point","shape":"square","filled":true,"size":55,"opacity":1,"stroke":"#222222","strokeWidth":0.6},
   "encoding":{
    "x":{"field":"v","type":"quantitative","axis":null},
    "y":{"field":"r","type":"quantitative","axis":{"orient":"right","values":[0.2,0.3,0.4,0.5,0.6,0.7,0.8,0.9,2,3,4,5,6,7,8,9,20,30,40,50],"tickSize":-7,"labels":false,"domain":false,"title":null}},
    "color":{"field":"s","type":"nominal","scale":{"domain":["36010","101348","101351","101353","101350","101352","101354"],"range":["#444444","#2233b8","#88e6f0","#5580e4","#35a040","#f0b850","#a8e05c"]},"legend":null}}},
  {"data":{"name":"legTopTxt"},"transform":[{"filter":"datum.w == 'b'"}],"mark":{"type":"text","fontWeight":"bold","fontSize":15},
   "encoding":{
    "x":{"field":"v","type":"quantitative","axis":null},
    "y":{"field":"r","type":"quantitative","axis":{"orient":"left","offset":-81,"values":[1,39.5],"labelExpr":"datum.value > 10 ? '0.01' : '0.1'","tickSize":15,"labelPadding":4,"labelFontSize":17,"domain":true,"title":["Attenuation","Length (µm)"],"titleFontSize":19,"titleAngle":270,"titleX":10,"titleY":143,"titleAlign":"left","titleBaseline":"top"}},
    "text":{"field":"txt"}}},
  {"data":{"name":"legTopTxt"},"transform":[{"filter":"datum.w == 'n'"}],"mark":{"type":"text","fontSize":15},
   "encoding":{
    "x":{"field":"v","type":"quantitative","axis":null},
    "y":{"field":"r","type":"quantitative","axis":null},
    "text":{"field":"txt"}}}
 ]
},
{
 "width":938,"height":436,
 "resolve":{"axis":{"x":"independent","y":"independent"},"scale":{"color":"independent","shape":"independent"}},
 "layer":[
  {"data":{"name":"egg"},"mark":{"type":"point","shape":"circle","filled":false,"size":60,"strokeWidth":1.3,"opacity":1},
   "encoding":{
    "x":{"field":"v","type":"quantitative","scale":{"domain":[19,26],"nice":false,"zero":false},"axis":{"orient":"bottom","values":[19,20,21,22,23,24,25,26],"format":".1f","ticks":false,"labelFontSize":19,"labelPadding":12,"domain":true,"title":"Shock Velocity (km/s)","titlePadding":6}},
    "y":{"field":"t","type":"quantitative","scale":{"domain":[4,12.5],"nice":false,"zero":false},"axis":{"orient":"left","values":[4,5,6,7,8,9,10,11,12],"labelExpr":"datum.value == 12 ? '12 x 10³' : datum.label","ticks":false,"labelPadding":10,"title":"Shock Temperature (K)","titleX":-41}},
    "color":{"field":"g","type":"nominal","scale":{"domain":["A","B","C","D","E","F","H","J","K","L","M","N","P","Q","R","S"],"range":["#e0a225","#f7c46a","#f6b3e2","#b38a2a","#84ea84","#b8b8b8","#646464","#e040c8","#e23a2e","#e47a3c","#a0289a","#3c3c3c","#f8c27a","#92aaf2","#93e693","#f2b6d6"]},"legend":null}}},
  {"data":{"name":"band"},"mark":{"type":"point","shape":"circle","filled":true,"size":110,"opacity":1,"color":"#6f7aea"},
   "encoding":{
    "x":{"field":"v","type":"quantitative","axis":null},
    "y":{"field":"t","type":"quantitative","axis":null}}},
  {"data":{"name":"blk"},"mark":{"type":"point","shape":"circle","filled":false,"size":26,"strokeWidth":2,"opacity":1,"color":"#111111"},
   "encoding":{
    "x":{"field":"v","type":"quantitative","axis":null},
    "y":{"field":"t","type":"quantitative","axis":null}}},
  {"data":{"name":"arrows"},"mark":{"type":"rule","strokeWidth":8},
   "encoding":{
    "x":{"field":"v1","type":"quantitative","axis":null},"x2":{"field":"v2"},
    "y":{"field":"t","type":"quantitative","axis":null},
    "color":{"field":"k","type":"nominal","scale":{"domain":["two","inf","dir"],"range":["#c4c4c4","#c8c8c8","#a4a4a4"]},"legend":null}}},
  {"data":{"name":"heads"},"mark":{"type":"point","filled":true,"size":300,"opacity":1},
   "encoding":{
    "x":{"field":"v","type":"quantitative","axis":null},
    "y":{"field":"t","type":"quantitative","axis":null},
    "shape":{"field":"d","type":"nominal","scale":{"domain":["r","l"],"range":["triangle-right","triangle-left"]},"legend":null},
    "color":{"field":"k","type":"nominal","scale":{"domain":["two","inf","dir"],"range":["#c4c4c4","#c8c8c8","#a4a4a4"]},"legend":null}}},
  {"data":{"name":"hug"},"mark":{"type":"line","color":"#ee1111","strokeWidth":4.5},
   "encoding":{
    "x":{"field":"v","type":"quantitative","axis":{"orient":"bottom","values":[19,20,21,22,23,24,25,26],"tickSize":-12,"labels":false,"domain":false,"title":null}},
    "y":{"field":"t","type":"quantitative","axis":{"orient":"left","values":[4,5,6,7,8,9,10,11,12],"tickSize":-12,"labels":false,"domain":false,"title":null}}}},
  {"data":{"name":"sq"},"mark":{"type":"point","shape":"square","filled":true,"size":80,"opacity":1,"stroke":"#222222","strokeWidth":0.6},
   "encoding":{
    "x":{"field":"v","type":"quantitative","axis":{"orient":"bottom","tickCount":70,"tickSize":-6,"labels":false,"domain":false,"title":null}},
    "y":{"field":"t","type":"quantitative","axis":{"orient":"left","tickCount":85,"tickSize":-6,"labels":false,"domain":false,"title":null}},
    "color":{"field":"s","type":"nominal","scale":{"domain":["36010","101348","101351","101353","101350","101352","101354"],"range":["#262626","#1f30b4","#84e2ee","#4f7fe6","#2e9a38","#e8b048","#a6e05a"]},"legend":null}}},
  {"data":{"name":"avg"},"mark":{"type":"line","color":"#f050d8","strokeWidth":4},
   "encoding":{
    "x":{"field":"v","type":"quantitative","axis":null},
    "y":{"field":"t","type":"quantitative","axis":{"orient":"right","values":[4,5,6,7,8,9,10,11,12],"tickSize":-12,"labels":false,"domain":true,"title":null}}}},
  {"data":{"name":"ebv"},"mark":{"type":"rule","color":"#000000","strokeWidth":1.5},
   "encoding":{
    "x":{"field":"v","type":"quantitative","axis":null},
    "y":{"field":"t1","type":"quantitative","axis":{"orient":"right","tickCount":85,"tickSize":-6,"labels":false,"domain":false,"title":null}},
    "y2":{"field":"t2"}}},
  {"data":{"name":"ebh"},"mark":{"type":"rule","color":"#000000","strokeWidth":1.5},
   "encoding":{
    "x":{"field":"v1","type":"quantitative","axis":null},"x2":{"field":"v2"},
    "y":{"field":"t","type":"quantitative","axis":null}}},
  {"data":{"name":"steady"},"mark":{"type":"point","shape":"square","filled":true,"size":170,"opacity":1,"color":"#000000","stroke":"#ffffff","strokeWidth":2},
   "encoding":{
    "x":{"field":"v","type":"quantitative","axis":null},
    "y":{"field":"t","type":"quantitative","axis":null}}},
  {"data":{"name":"arrowTxt"},"mark":{"type":"text","fontWeight":"bold","fontSize":16,"align":"center"},
   "encoding":{
    "x":{"field":"v","type":"quantitative","axis":null},
    "y":{"field":"t","type":"quantitative","axis":null},
    "text":{"field":"txt"}}},
  {"data":{"values":[{"v1":19.18,"v2":19.37,"t":12.1}]},"mark":{"type":"rule","color":"#ee1111","strokeWidth":5},
   "encoding":{"x":{"field":"v1","type":"quantitative","axis":null},"x2":{"field":"v2"},"y":{"field":"t","type":"quantitative","axis":null}}},
  {"data":{"values":[{"v1":19.19,"v2":19.36,"t":11.46}]},"mark":{"type":"rule","color":"#6c6c6c","strokeWidth":2,"strokeDash":[3,3]},
   "encoding":{"x":{"field":"v1","type":"quantitative","axis":null},"x2":{"field":"v2"},"y":{"field":"t","type":"quantitative","axis":null}}},
  {"data":{"values":[{"v1":23.78,"v2":23.96,"t":12.15}]},"mark":{"type":"rule","color":"#f050d8","strokeWidth":4},
   "encoding":{"x":{"field":"v1","type":"quantitative","axis":null},"x2":{"field":"v2"},"y":{"field":"t","type":"quantitative","axis":null}}},
  {"data":{"values":[{"v":19.33,"t":10.73}]},"mark":{"type":"point","shape":"square","filled":true,"size":60,"opacity":1,"color":"#000000"},
   "encoding":{"x":{"field":"v","type":"quantitative","axis":null},"y":{"field":"t","type":"quantitative","axis":null}}},
  {"data":{"values":[{"v":23.87,"t":12.46}]},"mark":{"type":"point","shape":"circle","filled":false,"size":55,"strokeWidth":1.2,"opacity":1,"color":"#b08830"},
   "encoding":{"x":{"field":"v","type":"quantitative","axis":null},"y":{"field":"t","type":"quantitative","axis":null}}},
  {"data":{"name":"legBotTxt"},"transform":[{"filter":"datum.w != 'n'"}],"mark":{"type":"text","fontWeight":"bold","fontSize":15},
   "encoding":{"x":{"field":"v","type":"quantitative","axis":null},"y":{"field":"t","type":"quantitative","axis":null},"text":{"field":"txt"}}},
  {"data":{"name":"legBotTxt"},"transform":[{"filter":"datum.w == 'n'"}],"mark":{"type":"text","fontSize":15},
   "encoding":{"x":{"field":"v","type":"quantitative","axis":null},"y":{"field":"t","type":"quantitative","axis":null},"text":{"field":"txt"}}}
 ]
}
]
}
